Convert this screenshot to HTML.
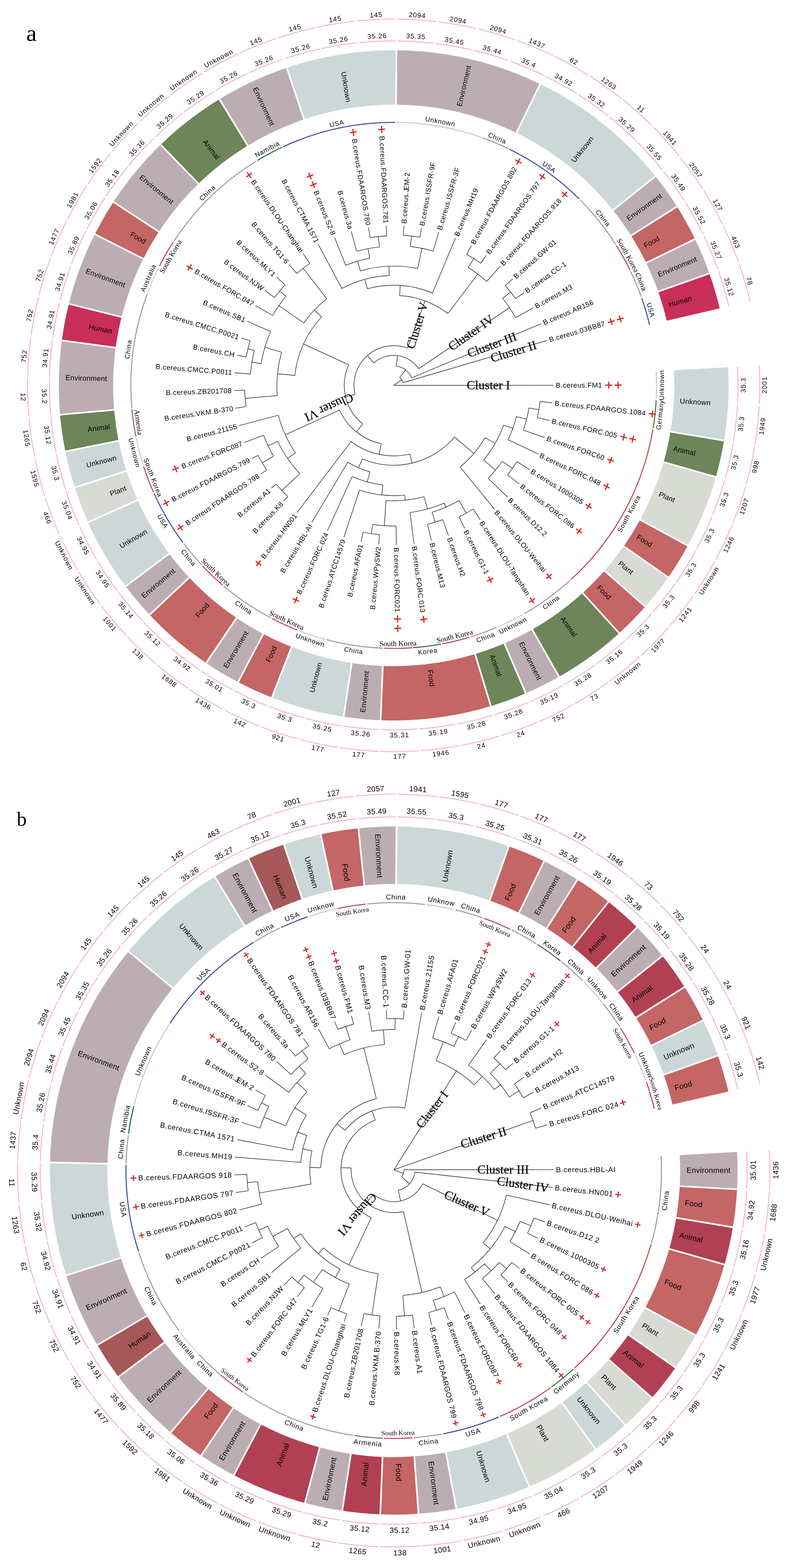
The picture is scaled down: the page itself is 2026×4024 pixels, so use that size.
<!DOCTYPE html><html><head><meta charset="utf-8"><title>Phylogenetic trees</title><style>
html,body{margin:0;padding:0;background:#fff;}svg{display:block;}
</style></head><body>
<svg width="2026" height="4024" viewBox="0 0 2026 4024" font-family="'Liberation Sans', Arial, sans-serif">
<rect width="2026" height="4024" fill="#fff"/>
<text x="67.5" y="105" font-size="60" font-family="'Liberation Serif', 'Times New Roman', serif" fill="#000">a</text>
<text x="43" y="2119" font-size="51" font-family="'Liberation Serif', 'Times New Roman', serif" fill="#000">b</text>
<g>
<path d="M1869.63 940.39A860 860 0 0 1 1859.23 1130.8L1721.64 1107.8A720.5 720.5 0 0 0 1730.35 948.28Z" fill="#ccd8d8"/>
<path d="M1859.23 1130.8A860 860 0 0 1 1838.28 1223.97L1704.09 1185.85A720.5 720.5 0 0 0 1721.64 1107.8Z" fill="#6e8459"/>
<path d="M1838.28 1223.97A860 860 0 0 1 1766.16 1400.5L1643.67 1333.75A720.5 720.5 0 0 0 1704.09 1185.85Z" fill="#d8dad4"/>
<path d="M1766.16 1400.5A860 860 0 0 1 1715.89 1481.68L1601.55 1401.77A720.5 720.5 0 0 0 1643.67 1333.75Z" fill="#c46566"/>
<path d="M1715.89 1481.68A860 860 0 0 1 1656.92 1556.79L1552.14 1464.69A720.5 720.5 0 0 0 1601.55 1401.77Z" fill="#d8dad4"/>
<path d="M1656.92 1556.79A860 860 0 0 1 1589.99 1624.9L1496.07 1521.76A720.5 720.5 0 0 0 1552.14 1464.69Z" fill="#c46566"/>
<path d="M1589.99 1624.9A860 860 0 0 1 1435.62 1736.86L1366.74 1615.55A720.5 720.5 0 0 0 1496.07 1521.76Z" fill="#6e8459"/>
<path d="M1435.62 1736.86A860 860 0 0 1 1350.09 1779.33L1295.09 1651.13A720.5 720.5 0 0 0 1366.74 1615.55Z" fill="#bcadb3"/>
<path d="M1350.09 1779.33A860 860 0 0 1 1260.38 1812.05L1219.93 1678.54A720.5 720.5 0 0 0 1295.09 1651.13Z" fill="#6e8459"/>
<path d="M1260.38 1812.05A860 860 0 0 1 977.39 1848.34L982.85 1708.95A720.5 720.5 0 0 0 1219.93 1678.54Z" fill="#c46566"/>
<path d="M977.39 1848.34A860 860 0 0 1 882.33 1839.32L903.2 1701.39A720.5 720.5 0 0 0 982.85 1708.95Z" fill="#bcadb3"/>
<path d="M882.33 1839.32A860 860 0 0 1 698.11 1790.06L748.86 1660.12A720.5 720.5 0 0 0 903.2 1701.39Z" fill="#ccd8d8"/>
<path d="M698.11 1790.06A860 860 0 0 1 611.23 1750.43L676.07 1626.92A720.5 720.5 0 0 0 748.86 1660.12Z" fill="#c46566"/>
<path d="M611.23 1750.43A860 860 0 0 1 529.27 1701.42L607.41 1585.86A720.5 720.5 0 0 0 676.07 1626.92Z" fill="#bcadb3"/>
<path d="M529.27 1701.42A860 860 0 0 1 384.12 1577.75L485.81 1482.25A720.5 720.5 0 0 0 607.41 1585.86Z" fill="#c46566"/>
<path d="M384.12 1577.75A860 860 0 0 1 322.71 1504.62L434.36 1420.98A720.5 720.5 0 0 0 485.81 1482.25Z" fill="#bcadb3"/>
<path d="M322.71 1504.62A860 860 0 0 1 226.01 1340.27L353.34 1283.29A720.5 720.5 0 0 0 434.36 1420.98Z" fill="#ccd8d8"/>
<path d="M226.01 1340.27A860 860 0 0 1 191.9 1251.07L324.77 1208.56A720.5 720.5 0 0 0 353.34 1283.29Z" fill="#d8dad4"/>
<path d="M191.9 1251.07A860 860 0 0 1 167.9 1158.65L304.66 1131.13A720.5 720.5 0 0 0 324.77 1208.56Z" fill="#ccd8d8"/>
<path d="M167.9 1158.65A860 860 0 0 1 154.29 1064.13L293.25 1051.94A720.5 720.5 0 0 0 304.66 1131.13Z" fill="#6e8459"/>
<path d="M154.29 1064.13A860 860 0 0 1 158.79 873.49L297.03 892.23A720.5 720.5 0 0 0 293.25 1051.94Z" fill="#bcadb3"/>
<path d="M158.79 873.49A860 860 0 0 1 176.85 779.72L312.16 813.67A720.5 720.5 0 0 0 297.03 892.23Z" fill="#c92f58"/>
<path d="M176.85 779.72A860 860 0 0 1 243.48 601.05L367.98 663.98A720.5 720.5 0 0 0 312.16 813.67Z" fill="#bcadb3"/>
<path d="M243.48 601.05A860 860 0 0 1 291.22 518.34L407.98 594.69A720.5 720.5 0 0 0 367.98 663.98Z" fill="#c46566"/>
<path d="M291.22 518.34A860 860 0 0 1 412.63 371.3L509.69 471.5A720.5 720.5 0 0 0 407.98 594.69Z" fill="#bcadb3"/>
<path d="M412.63 371.3A860 860 0 0 1 563.46 254.62L636.06 373.75A720.5 720.5 0 0 0 509.69 471.5Z" fill="#6e8459"/>
<path d="M563.46 254.62A860 860 0 0 1 736.3 174.05L780.86 306.25A720.5 720.5 0 0 0 636.06 373.75Z" fill="#bcadb3"/>
<path d="M736.3 174.05A860 860 0 0 1 1018.02 129.03L1016.88 268.52A720.5 720.5 0 0 0 780.86 306.25Z" fill="#ccd8d8"/>
<path d="M1018.02 129.03A860 860 0 0 1 1387.04 215.57L1326.04 341.03A720.5 720.5 0 0 0 1016.88 268.52Z" fill="#bcadb3"/>
<path d="M1387.04 215.57A860 860 0 0 1 1683.02 452.35L1574.01 539.4A720.5 720.5 0 0 0 1326.04 341.03Z" fill="#ccd8d8"/>
<path d="M1683.02 452.35A860 860 0 0 1 1738.37 530.16L1620.38 604.59A720.5 720.5 0 0 0 1574.01 539.4Z" fill="#bcadb3"/>
<path d="M1738.37 530.16A860 860 0 0 1 1784.76 613.63L1659.25 674.52A720.5 720.5 0 0 0 1620.38 604.59Z" fill="#c46566"/>
<path d="M1784.76 613.63A860 860 0 0 1 1821.6 701.73L1690.12 748.33A720.5 720.5 0 0 0 1659.25 674.52Z" fill="#bcadb3"/>
<path d="M1821.6 701.73A860 860 0 0 1 1848.45 793.37L1712.61 825.1A720.5 720.5 0 0 0 1690.12 748.33Z" fill="#c92f58"/>
<path d="M1719.67 1107.47L1861.2 1131.13M1702.16 1185.31L1840.2 1224.51M1641.91 1332.79L1767.92 1401.45M1599.91 1400.62L1717.52 1482.83M1550.64 1463.37L1658.42 1558.11M1494.72 1520.28L1591.33 1626.38M1365.76 1613.81L1436.61 1738.6M1294.3 1649.29L1350.88 1781.17M1219.35 1676.63L1260.96 1813.96M982.92 1706.95L977.32 1850.34M903.5 1699.41L882.03 1841.3M749.59 1658.26L697.38 1791.92M677 1625.15L610.3 1752.2M608.53 1584.2L528.15 1703.07M487.27 1480.88L382.66 1579.12M435.96 1419.78L321.11 1505.82M355.17 1282.47L224.18 1341.08M326.67 1207.95L190 1251.68M306.62 1130.73L165.94 1159.04M295.25 1051.77L152.3 1064.3M299.01 892.49L156.81 873.22M314.1 814.15L174.91 779.23M369.76 664.88L241.69 600.14M409.65 595.78L289.55 517.25M511.08 472.93L411.24 369.86M637.1 375.45L562.42 252.91M781.49 308.14L735.66 172.16M1016.87 270.52L1018.04 127.03M1325.17 342.83L1387.92 213.77M1572.45 540.65L1684.58 451.1M1618.69 605.66L1740.06 529.1M1657.45 675.39L1786.56 612.76M1688.23 749L1823.49 701.06M1728.35 948.39L1871.62 940.28M1710.66 825.56L1850.4 792.92" stroke="#fff" stroke-width="4.2" fill="none"/>
<text x="1745.91" y="1029.13" font-size="18.5" text-anchor="start" dy="0.35em" letter-spacing="0.3" transform="rotate(3.13 1745.91 1029.13)">Unknown</text>
<text x="1729.07" y="1150.47" font-size="18.5" text-anchor="start" dy="0.35em" letter-spacing="0.3" transform="rotate(12.67 1729.07 1150.47)">Animal</text>
<text x="1692.34" y="1267.34" font-size="18.5" text-anchor="start" dy="0.35em" letter-spacing="0.3" transform="rotate(22.22 1692.34 1267.34)">Plant</text>
<text x="1636.73" y="1376.5" font-size="18.5" text-anchor="start" dy="0.35em" letter-spacing="0.3" transform="rotate(31.77 1636.73 1376.5)">Food</text>
<text x="1589.91" y="1443.49" font-size="18.5" text-anchor="start" dy="0.35em" letter-spacing="0.3" transform="rotate(38.13 1589.91 1443.49)">Plant</text>
<text x="1535.95" y="1504.87" font-size="18.5" text-anchor="start" dy="0.35em" letter-spacing="0.3" transform="rotate(44.5 1535.95 1504.87)">Food</text>
<text x="1443.11" y="1584.8" font-size="18.5" text-anchor="start" dy="0.35em" letter-spacing="0.3" transform="rotate(54.05 1443.11 1584.8)">Animal</text>
<text x="1338.3" y="1648.22" font-size="18.5" text-anchor="start" dy="0.35em" letter-spacing="0.3" transform="rotate(63.6 1338.3 1648.22)">Environment</text>
<text x="1263.2" y="1680.44" font-size="18.5" text-anchor="start" dy="0.35em" letter-spacing="0.3" transform="rotate(69.96 1263.2 1680.44)">Animal</text>
<text x="1104.63" y="1719.02" font-size="18.5" text-anchor="start" dy="0.35em" letter-spacing="0.3" transform="rotate(82.69 1104.63 1719.02)">Food</text>
<text x="941.45" y="1721.71" font-size="18.5" text-anchor="end" dy="0.35em" letter-spacing="0.3" transform="rotate(-84.58 941.45 1721.71)">Environment</text>
<text x="820.88" y="1700.02" font-size="18.5" text-anchor="end" dy="0.35em" letter-spacing="0.3" transform="rotate(-75.03 820.88 1700.02)">Unknown</text>
<text x="705.57" y="1658.64" font-size="18.5" text-anchor="end" dy="0.35em" letter-spacing="0.3" transform="rotate(-65.48 705.57 1658.64)">Food</text>
<text x="633.22" y="1620.65" font-size="18.5" text-anchor="end" dy="0.35em" letter-spacing="0.3" transform="rotate(-59.12 633.22 1620.65)">Environment</text>
<text x="533.68" y="1549.23" font-size="18.5" text-anchor="end" dy="0.35em" letter-spacing="0.3" transform="rotate(-49.57 533.68 1549.23)">Food</text>
<text x="447.36" y="1462.3" font-size="18.5" text-anchor="end" dy="0.35em" letter-spacing="0.3" transform="rotate(-40.02 447.36 1462.3)">Environment</text>
<text x="376.66" y="1362.25" font-size="18.5" text-anchor="end" dy="0.35em" letter-spacing="0.3" transform="rotate(-30.47 376.66 1362.25)">Unknown</text>
<text x="323.54" y="1251.86" font-size="18.5" text-anchor="end" dy="0.35em" letter-spacing="0.3" transform="rotate(-20.92 323.54 1251.86)">Plant</text>
<text x="298.64" y="1174.02" font-size="18.5" text-anchor="end" dy="0.35em" letter-spacing="0.3" transform="rotate(-14.56 298.64 1174.02)">Unknown</text>
<text x="282.51" y="1093.9" font-size="18.5" text-anchor="end" dy="0.35em" letter-spacing="0.3" transform="rotate(-8.19 282.51 1093.9)">Animal</text>
<text x="275.21" y="971.61" font-size="18.5" text-anchor="end" dy="0.35em" letter-spacing="0.3" transform="rotate(1.35 275.21 971.61)">Environment</text>
<text x="288.28" y="849.8" font-size="18.5" text-anchor="end" dy="0.35em" letter-spacing="0.3" transform="rotate(10.9 288.28 849.8)">Human</text>
<text x="321.38" y="731.85" font-size="18.5" text-anchor="end" dy="0.35em" letter-spacing="0.3" transform="rotate(20.45 321.38 731.85)">Environment</text>
<text x="373.59" y="621.03" font-size="18.5" text-anchor="end" dy="0.35em" letter-spacing="0.3" transform="rotate(30 373.59 621.03)">Food</text>
<text x="443.46" y="520.4" font-size="18.5" text-anchor="end" dy="0.35em" letter-spacing="0.3" transform="rotate(39.55 443.46 520.4)">Environment</text>
<text x="560.67" y="406.85" font-size="18.5" text-anchor="end" dy="0.35em" letter-spacing="0.3" transform="rotate(52.28 560.67 406.85)">Animal</text>
<text x="700.03" y="321.92" font-size="18.5" text-anchor="end" dy="0.35em" letter-spacing="0.3" transform="rotate(65.01 700.03 321.92)">Environment</text>
<text x="894.85" y="262.22" font-size="18.5" text-anchor="end" dy="0.35em" letter-spacing="0.3" transform="rotate(80.92 894.85 262.22)">Unknown</text>
<text x="1179.05" y="272.44" font-size="18.5" text-anchor="start" dy="0.35em" letter-spacing="0.3" transform="rotate(283.2 1179.05 272.44)">Environment</text>
<text x="1470.77" y="414.28" font-size="18.5" text-anchor="start" dy="0.35em" letter-spacing="0.3" transform="rotate(308.66 1470.77 414.28)">Unknown</text>
<text x="1610.73" y="562.37" font-size="18.5" text-anchor="start" dy="0.35em" letter-spacing="0.3" transform="rotate(324.57 1610.73 562.37)">Environment</text>
<text x="1654.34" y="631.49" font-size="18.5" text-anchor="start" dy="0.35em" letter-spacing="0.3" transform="rotate(330.94 1654.34 631.49)">Food</text>
<text x="1690.01" y="705.02" font-size="18.5" text-anchor="start" dy="0.35em" letter-spacing="0.3" transform="rotate(337.3 1690.01 705.02)">Environment</text>
<text x="1717.3" y="782.05" font-size="18.5" text-anchor="start" dy="0.35em" letter-spacing="0.3" transform="rotate(343.67 1717.3 782.05)">Human</text>
<path d="M1893.72 941.43A884 884 0 0 1 1893.81 1034.8M1893.55 1039.59A884 884 0 0 1 1883.29 1132.39M1882.5 1137.13A884 884 0 0 1 1862.02 1228.22M1860.71 1232.83A884 884 0 0 1 1830.25 1321.09M1828.44 1325.53A884 884 0 0 1 1788.38 1409.87M1786.09 1414.09A884 884 0 0 1 1736.93 1493.46M1734.18 1497.4A884 884 0 0 1 1676.53 1570.83M1673.36 1574.44A884 884 0 0 1 1607.92 1641.03M1604.37 1644.26A884 884 0 0 1 1531.95 1703.19M1528.06 1706.01A884 884 0 0 1 1449.56 1756.54M1445.38 1758.91A884 884 0 0 1 1361.76 1800.43M1357.35 1802.33A884 884 0 0 1 1269.63 1834.32M1265.04 1835.71A884 884 0 0 1 1174.32 1857.78M1169.6 1858.66A884 884 0 0 1 1076.99 1870.53M1072.21 1870.88A884 884 0 0 1 978.85 1872.42M974.06 1872.23A884 884 0 0 1 881.11 1863.41M876.37 1862.69A884 884 0 0 1 784.97 1843.61M780.33 1842.37A884 884 0 0 1 691.61 1813.29M687.14 1811.54A884 884 0 0 1 602.2 1772.8M597.95 1770.56A884 884 0 0 1 517.82 1722.64M513.84 1719.95A884 884 0 0 1 439.52 1663.44M435.87 1660.33A884 884 0 0 1 368.27 1595.93M364.99 1592.43A884 884 0 0 1 304.95 1520.93M302.07 1517.08A884 884 0 0 1 250.33 1439.37M247.89 1435.23A884 884 0 0 1 205.09 1352.26M203.12 1347.88A884 884 0 0 1 169.78 1260.67M168.32 1256.1A884 884 0 0 1 144.85 1165.73M143.9 1161.03A884 884 0 0 1 130.59 1068.61M130.17 1063.83A884 884 0 0 1 127.19 970.52M127.31 965.72A884 884 0 0 1 134.69 872.64M135.34 867.89A884 884 0 0 1 152.99 776.21M154.16 771.55A884 884 0 0 1 181.87 682.4M183.55 677.9A884 884 0 0 1 220.98 592.36M223.14 588.08A884 884 0 0 1 269.82 507.22M272.45 503.2A884 884 0 0 1 327.81 428.02M330.86 424.32A884 884 0 0 1 394.21 355.73M397.66 352.39A884 884 0 0 1 468.22 291.25M472.02 288.32A884 884 0 0 1 548.93 235.38M553.02 232.88A884 884 0 0 1 635.33 188.8M639.68 186.77A884 884 0 0 1 726.36 152.08M730.91 150.55A884 884 0 0 1 820.9 125.68M825.59 124.66A884 884 0 0 1 917.78 109.93M922.56 109.44A884 884 0 0 1 1015.82 105.01M1020.62 105.05A884 884 0 0 1 1113.79 111M1118.56 111.57A884 884 0 0 1 1210.5 127.81M1215.18 128.9A884 884 0 0 1 1304.75 155.23M1309.27 156.84A884 884 0 0 1 1395.38 192.94M1399.69 195.04A884 884 0 0 1 1481.26 240.46M1485.32 243.03A884 884 0 0 1 1561.35 297.21M1565.1 300.21A884 884 0 0 1 1634.66 362.49M1638.05 365.89A884 884 0 0 1 1700.27 435.5M1703.27 439.25A884 884 0 0 1 1757.39 515.33M1759.95 519.39A884 884 0 0 1 1805.3 601M1807.39 605.32A884 884 0 0 1 1843.42 691.45M1845.02 695.98A884 884 0 0 1 1871.28 785.58" stroke="#f1afbf" stroke-width="2.2" fill="none"/>
<path d="M1949.63 938.27A940 940 0 0 1 1949.73 1037.85M1949.47 1042.64A940 940 0 0 1 1938.53 1141.62M1937.74 1146.36A940 940 0 0 1 1915.89 1243.52M1914.58 1248.13A940 940 0 0 1 1882.09 1342.27M1880.28 1346.71A940 940 0 0 1 1837.56 1436.67M1835.26 1440.88A940 940 0 0 1 1782.83 1525.55M1780.08 1529.48A940 940 0 0 1 1718.59 1607.81M1715.42 1611.41A940 940 0 0 1 1645.62 1682.44M1642.07 1685.67A940 940 0 0 1 1564.83 1748.52M1560.94 1751.34A940 940 0 0 1 1477.21 1805.24M1473.03 1807.61A940 940 0 0 1 1383.84 1851.9M1379.43 1853.79A940 940 0 0 1 1285.87 1887.91M1281.28 1889.31A940 940 0 0 1 1184.52 1912.85M1179.8 1913.72A940 940 0 0 1 1081.02 1926.39M1076.24 1926.73A940 940 0 0 1 976.67 1928.37M971.87 1928.19A940 940 0 0 1 872.73 1918.78M867.99 1918.06A940 940 0 0 1 770.5 1897.71M765.87 1896.47A940 940 0 0 1 671.24 1865.45M666.77 1863.7A940 940 0 0 1 576.16 1822.38M571.91 1820.15A940 940 0 0 1 486.45 1769.03M482.47 1766.34A940 940 0 0 1 403.21 1706.07M399.55 1702.95A940 940 0 0 1 327.45 1634.26M324.17 1630.76A940 940 0 0 1 260.13 1554.5M257.25 1550.66A940 940 0 0 1 202.06 1467.77M199.63 1463.63A940 940 0 0 1 153.97 1375.13M152.01 1370.75A940 940 0 0 1 116.44 1277.74M114.98 1273.16A940 940 0 0 1 89.95 1176.78M89 1172.07A940 940 0 0 1 74.81 1073.51M74.39 1068.72A940 940 0 0 1 71.21 969.19M71.32 964.39A940 940 0 0 1 79.2 865.12M79.84 860.37A940 940 0 0 1 98.68 762.58M99.84 757.92A940 940 0 0 1 129.4 662.83M131.08 658.33A940 940 0 0 1 171 567.1M173.16 562.82A940 940 0 0 1 222.95 476.57M225.58 472.56A940 940 0 0 1 284.62 392.36M287.68 388.66A940 940 0 0 1 355.25 315.51M358.7 312.17A940 940 0 0 1 433.96 246.96M437.75 244.02A940 940 0 0 1 519.78 187.56M523.88 185.06A940 940 0 0 1 611.66 138.04M616.02 136.01A940 940 0 0 1 708.47 99.01M713.02 97.48A940 940 0 0 1 809 70.96M813.7 69.94A940 940 0 0 1 912.03 54.22M916.81 53.73A940 940 0 0 1 1016.28 49.01M1021.08 49.05A940 940 0 0 1 1120.46 55.39M1125.22 55.97A940 940 0 0 1 1223.29 73.29M1227.96 74.38A940 940 0 0 1 1323.5 102.47M1328.03 104.07A940 940 0 0 1 1419.86 142.58M1424.18 144.68A940 940 0 0 1 1511.18 193.13M1515.24 195.69A940 940 0 0 1 1596.34 253.49M1600.08 256.48A940 940 0 0 1 1674.27 322.91M1677.66 326.31A940 940 0 0 1 1744.03 400.56M1747.03 404.31A940 940 0 0 1 1804.75 485.45M1807.31 489.51A940 940 0 0 1 1855.68 576.56M1857.78 580.88A940 940 0 0 1 1896.2 672.75M1897.81 677.27A940 940 0 0 1 1925.81 772.84" stroke="#f1afbf" stroke-width="2.2" fill="none"/>
<text x="1908.5" y="988.1" font-size="17.3" text-anchor="middle" dy="0.35em" letter-spacing="1.4" transform="rotate(-90.06 1908.5 988.1)">35.3</text>
<text x="1963" y="988.05" font-size="17.3" text-anchor="middle" dy="0.35em" letter-spacing="1.4" transform="rotate(-90.06 1963 988.05)">2001</text>
<text x="1903.07" y="1087.61" font-size="17.3" text-anchor="middle" dy="0.35em" letter-spacing="1.4" transform="rotate(-83.69 1903.07 1087.61)">35.3</text>
<text x="1957.24" y="1093.6" font-size="17.3" text-anchor="middle" dy="0.35em" letter-spacing="1.4" transform="rotate(-83.69 1957.24 1093.6)">1949</text>
<text x="1886.63" y="1185.9" font-size="17.3" text-anchor="middle" dy="0.35em" letter-spacing="1.4" transform="rotate(-77.33 1886.63 1185.9)">35.3</text>
<text x="1939.81" y="1197.86" font-size="17.3" text-anchor="middle" dy="0.35em" letter-spacing="1.4" transform="rotate(-77.33 1939.81 1197.86)">998</text>
<text x="1859.41" y="1281.77" font-size="17.3" text-anchor="middle" dy="0.35em" letter-spacing="1.4" transform="rotate(-70.96 1859.41 1281.77)">35.3</text>
<text x="1910.92" y="1299.55" font-size="17.3" text-anchor="middle" dy="0.35em" letter-spacing="1.4" transform="rotate(-70.96 1910.92 1299.55)">1207</text>
<text x="1821.72" y="1374.02" font-size="17.3" text-anchor="middle" dy="0.35em" letter-spacing="1.4" transform="rotate(-64.6 1821.72 1374.02)">35.3</text>
<text x="1870.95" y="1397.4" font-size="17.3" text-anchor="middle" dy="0.35em" letter-spacing="1.4" transform="rotate(-64.6 1870.95 1397.4)">1246</text>
<text x="1774.03" y="1461.53" font-size="17.3" text-anchor="middle" dy="0.35em" letter-spacing="1.4" transform="rotate(-58.23 1774.03 1461.53)">35.3</text>
<text x="1820.37" y="1490.23" font-size="17.3" text-anchor="middle" dy="0.35em" letter-spacing="1.4" transform="rotate(-58.23 1820.37 1490.23)">Unknown</text>
<text x="1716.94" y="1543.21" font-size="17.3" text-anchor="middle" dy="0.35em" letter-spacing="1.4" transform="rotate(-51.87 1716.94 1543.21)">35.3</text>
<text x="1759.81" y="1576.87" font-size="17.3" text-anchor="middle" dy="0.35em" letter-spacing="1.4" transform="rotate(-51.87 1759.81 1576.87)">1241</text>
<text x="1651.15" y="1618.06" font-size="17.3" text-anchor="middle" dy="0.35em" letter-spacing="1.4" transform="rotate(-45.5 1651.15 1618.06)">35.3</text>
<text x="1690.02" y="1656.26" font-size="17.3" text-anchor="middle" dy="0.35em" letter-spacing="1.4" transform="rotate(-45.5 1690.02 1656.26)">1977</text>
<text x="1577.46" y="1685.16" font-size="17.3" text-anchor="middle" dy="0.35em" letter-spacing="1.4" transform="rotate(-39.13 1577.46 1685.16)">35.16</text>
<text x="1611.85" y="1727.43" font-size="17.3" text-anchor="middle" dy="0.35em" letter-spacing="1.4" transform="rotate(-39.13 1611.85 1727.43)">Unknown</text>
<text x="1496.78" y="1743.67" font-size="17.3" text-anchor="middle" dy="0.35em" letter-spacing="1.4" transform="rotate(-32.77 1496.78 1743.67)">35.28</text>
<text x="1526.28" y="1789.49" font-size="17.3" text-anchor="middle" dy="0.35em" letter-spacing="1.4" transform="rotate(-32.77 1526.28 1789.49)">73</text>
<text x="1410.12" y="1792.87" font-size="17.3" text-anchor="middle" dy="0.35em" letter-spacing="1.4" transform="rotate(-26.4 1410.12 1792.87)">35.19</text>
<text x="1434.36" y="1841.69" font-size="17.3" text-anchor="middle" dy="0.35em" letter-spacing="1.4" transform="rotate(-26.4 1434.36 1841.69)">752</text>
<text x="1318.54" y="1832.16" font-size="17.3" text-anchor="middle" dy="0.35em" letter-spacing="1.4" transform="rotate(-20.04 1318.54 1832.16)">35.28</text>
<text x="1337.21" y="1883.37" font-size="17.3" text-anchor="middle" dy="0.35em" letter-spacing="1.4" transform="rotate(-20.04 1337.21 1883.37)">24</text>
<text x="1223.16" y="1861.06" font-size="17.3" text-anchor="middle" dy="0.35em" letter-spacing="1.4" transform="rotate(-13.67 1223.16 1861.06)">35.28</text>
<text x="1236.05" y="1914.02" font-size="17.3" text-anchor="middle" dy="0.35em" letter-spacing="1.4" transform="rotate(-13.67 1236.05 1914.02)">24</text>
<text x="1125.17" y="1879.21" font-size="17.3" text-anchor="middle" dy="0.35em" letter-spacing="1.4" transform="rotate(-7.31 1125.17 1879.21)">35.19</text>
<text x="1132.1" y="1933.27" font-size="17.3" text-anchor="middle" dy="0.35em" letter-spacing="1.4" transform="rotate(-7.31 1132.1 1933.27)">1946</text>
<text x="1025.77" y="1886.38" font-size="17.3" text-anchor="middle" dy="0.35em" letter-spacing="1.4" transform="rotate(-0.94 1025.77 1886.38)">35.31</text>
<text x="1026.67" y="1940.87" font-size="17.3" text-anchor="middle" dy="0.35em" letter-spacing="1.4" transform="rotate(-0.94 1026.67 1940.87)">177</text>
<text x="926.19" y="1882.48" font-size="17.3" text-anchor="middle" dy="0.35em" letter-spacing="1.4" transform="rotate(5.42 926.19 1882.48)">35.26</text>
<text x="921.04" y="1936.74" font-size="17.3" text-anchor="middle" dy="0.35em" letter-spacing="1.4" transform="rotate(5.42 921.04 1936.74)">177</text>
<text x="827.66" y="1867.57" font-size="17.3" text-anchor="middle" dy="0.35em" letter-spacing="1.4" transform="rotate(11.79 827.66 1867.57)">35.25</text>
<text x="816.52" y="1920.92" font-size="17.3" text-anchor="middle" dy="0.35em" letter-spacing="1.4" transform="rotate(11.79 816.52 1920.92)">177</text>
<text x="731.38" y="1841.83" font-size="17.3" text-anchor="middle" dy="0.35em" letter-spacing="1.4" transform="rotate(18.15 731.38 1841.83)">35.3</text>
<text x="714.4" y="1893.62" font-size="17.3" text-anchor="middle" dy="0.35em" letter-spacing="1.4" transform="rotate(18.15 714.4 1893.62)">921</text>
<text x="638.56" y="1805.57" font-size="17.3" text-anchor="middle" dy="0.35em" letter-spacing="1.4" transform="rotate(24.52 638.56 1805.57)">35.3</text>
<text x="615.94" y="1855.16" font-size="17.3" text-anchor="middle" dy="0.35em" letter-spacing="1.4" transform="rotate(24.52 615.94 1855.16)">142</text>
<text x="550.32" y="1759.25" font-size="17.3" text-anchor="middle" dy="0.35em" letter-spacing="1.4" transform="rotate(30.88 550.32 1759.25)">35.01</text>
<text x="522.35" y="1806.02" font-size="17.3" text-anchor="middle" dy="0.35em" letter-spacing="1.4" transform="rotate(30.88 522.35 1806.02)">1436</text>
<text x="467.77" y="1703.42" font-size="17.3" text-anchor="middle" dy="0.35em" letter-spacing="1.4" transform="rotate(37.25 467.77 1703.42)">34.92</text>
<text x="434.78" y="1746.81" font-size="17.3" text-anchor="middle" dy="0.35em" letter-spacing="1.4" transform="rotate(37.25 434.78 1746.81)">1688</text>
<text x="391.91" y="1638.79" font-size="17.3" text-anchor="middle" dy="0.35em" letter-spacing="1.4" transform="rotate(43.61 391.91 1638.79)">35.12</text>
<text x="354.31" y="1678.25" font-size="17.3" text-anchor="middle" dy="0.35em" letter-spacing="1.4" transform="rotate(43.61 354.31 1678.25)">138</text>
<text x="323.68" y="1566.15" font-size="17.3" text-anchor="middle" dy="0.35em" letter-spacing="1.4" transform="rotate(49.98 323.68 1566.15)">35.14</text>
<text x="281.95" y="1601.2" font-size="17.3" text-anchor="middle" dy="0.35em" letter-spacing="1.4" transform="rotate(49.98 281.95 1601.2)">1001</text>
<text x="263.93" y="1486.39" font-size="17.3" text-anchor="middle" dy="0.35em" letter-spacing="1.4" transform="rotate(56.34 263.93 1486.39)">34.95</text>
<text x="218.57" y="1516.6" font-size="17.3" text-anchor="middle" dy="0.35em" letter-spacing="1.4" transform="rotate(56.34 218.57 1516.6)">Unknown</text>
<text x="213.4" y="1400.5" font-size="17.3" text-anchor="middle" dy="0.35em" letter-spacing="1.4" transform="rotate(62.71 213.4 1400.5)">34.95</text>
<text x="164.96" y="1425.49" font-size="17.3" text-anchor="middle" dy="0.35em" letter-spacing="1.4" transform="rotate(62.71 164.96 1425.49)">Unknown</text>
<text x="172.69" y="1309.54" font-size="17.3" text-anchor="middle" dy="0.35em" letter-spacing="1.4" transform="rotate(69.08 172.69 1309.54)">35.04</text>
<text x="121.78" y="1329" font-size="17.3" text-anchor="middle" dy="0.35em" letter-spacing="1.4" transform="rotate(69.08 121.78 1329)">466</text>
<text x="142.32" y="1214.62" font-size="17.3" text-anchor="middle" dy="0.35em" letter-spacing="1.4" transform="rotate(75.44 142.32 1214.62)">35.3</text>
<text x="89.57" y="1228.32" font-size="17.3" text-anchor="middle" dy="0.35em" letter-spacing="1.4" transform="rotate(75.44 89.57 1228.32)">1595</text>
<text x="122.66" y="1116.92" font-size="17.3" text-anchor="middle" dy="0.35em" letter-spacing="1.4" transform="rotate(81.81 122.66 1116.92)">35.12</text>
<text x="68.72" y="1124.69" font-size="17.3" text-anchor="middle" dy="0.35em" letter-spacing="1.4" transform="rotate(81.81 68.72 1124.69)">1265</text>
<text x="113.96" y="1017.64" font-size="17.3" text-anchor="middle" dy="0.35em" letter-spacing="1.4" transform="rotate(88.17 113.96 1017.64)">35.2</text>
<text x="59.48" y="1019.38" font-size="17.3" text-anchor="middle" dy="0.35em" letter-spacing="1.4" transform="rotate(88.17 59.48 1019.38)">12</text>
<text x="116.31" y="918.02" font-size="17.3" text-anchor="middle" dy="0.35em" letter-spacing="1.4" transform="rotate(274.54 116.31 918.02)">34.91</text>
<text x="61.98" y="913.7" font-size="17.3" text-anchor="middle" dy="0.35em" letter-spacing="1.4" transform="rotate(274.54 61.98 913.7)">752</text>
<text x="129.7" y="819.26" font-size="17.3" text-anchor="middle" dy="0.35em" letter-spacing="1.4" transform="rotate(280.9 129.7 819.26)">34.91</text>
<text x="76.18" y="808.95" font-size="17.3" text-anchor="middle" dy="0.35em" letter-spacing="1.4" transform="rotate(280.9 76.18 808.95)">752</text>
<text x="153.95" y="722.6" font-size="17.3" text-anchor="middle" dy="0.35em" letter-spacing="1.4" transform="rotate(287.27 153.95 722.6)">34.91</text>
<text x="101.9" y="706.42" font-size="17.3" text-anchor="middle" dy="0.35em" letter-spacing="1.4" transform="rotate(287.27 101.9 706.42)">752</text>
<text x="188.77" y="629.22" font-size="17.3" text-anchor="middle" dy="0.35em" letter-spacing="1.4" transform="rotate(293.63 188.77 629.22)">35.89</text>
<text x="138.84" y="607.38" font-size="17.3" text-anchor="middle" dy="0.35em" letter-spacing="1.4" transform="rotate(293.63 138.84 607.38)">1477</text>
<text x="233.72" y="540.28" font-size="17.3" text-anchor="middle" dy="0.35em" letter-spacing="1.4" transform="rotate(300 233.72 540.28)">35.06</text>
<text x="186.52" y="513.04" font-size="17.3" text-anchor="middle" dy="0.35em" letter-spacing="1.4" transform="rotate(300 186.52 513.04)">1981</text>
<text x="288.26" y="456.88" font-size="17.3" text-anchor="middle" dy="0.35em" letter-spacing="1.4" transform="rotate(306.36 288.26 456.88)">35.18</text>
<text x="244.37" y="424.56" font-size="17.3" text-anchor="middle" dy="0.35em" letter-spacing="1.4" transform="rotate(306.36 244.37 424.56)">1592</text>
<text x="351.71" y="380.03" font-size="17.3" text-anchor="middle" dy="0.35em" letter-spacing="1.4" transform="rotate(312.73 351.71 380.03)">35.36</text>
<text x="311.68" y="343.05" font-size="17.3" text-anchor="middle" dy="0.35em" letter-spacing="1.4" transform="rotate(312.73 311.68 343.05)">Unknown</text>
<text x="423.29" y="310.69" font-size="17.3" text-anchor="middle" dy="0.35em" letter-spacing="1.4" transform="rotate(319.09 423.29 310.69)">35.29</text>
<text x="387.6" y="269.5" font-size="17.3" text-anchor="middle" dy="0.35em" letter-spacing="1.4" transform="rotate(319.09 387.6 269.5)">Unknown</text>
<text x="502.12" y="249.71" font-size="17.3" text-anchor="middle" dy="0.35em" letter-spacing="1.4" transform="rotate(325.46 502.12 249.71)">35.29</text>
<text x="471.22" y="204.82" font-size="17.3" text-anchor="middle" dy="0.35em" letter-spacing="1.4" transform="rotate(325.46 471.22 204.82)">Unknown</text>
<text x="587.22" y="197.85" font-size="17.3" text-anchor="middle" dy="0.35em" letter-spacing="1.4" transform="rotate(331.82 587.22 197.85)">35.26</text>
<text x="561.48" y="149.81" font-size="17.3" text-anchor="middle" dy="0.35em" letter-spacing="1.4" transform="rotate(331.82 561.48 149.81)">Unknown</text>
<text x="677.54" y="155.75" font-size="17.3" text-anchor="middle" dy="0.35em" letter-spacing="1.4" transform="rotate(338.19 677.54 155.75)">35.26</text>
<text x="657.29" y="105.15" font-size="17.3" text-anchor="middle" dy="0.35em" letter-spacing="1.4" transform="rotate(338.19 657.29 105.15)">145</text>
<text x="771.98" y="123.91" font-size="17.3" text-anchor="middle" dy="0.35em" letter-spacing="1.4" transform="rotate(344.55 771.98 123.91)">35.26</text>
<text x="757.46" y="71.38" font-size="17.3" text-anchor="middle" dy="0.35em" letter-spacing="1.4" transform="rotate(344.55 757.46 71.38)">145</text>
<text x="869.36" y="102.75" font-size="17.3" text-anchor="middle" dy="0.35em" letter-spacing="1.4" transform="rotate(350.92 869.36 102.75)">35.26</text>
<text x="860.76" y="48.93" font-size="17.3" text-anchor="middle" dy="0.35em" letter-spacing="1.4" transform="rotate(350.92 860.76 48.93)">145</text>
<text x="968.49" y="92.51" font-size="17.3" text-anchor="middle" dy="0.35em" letter-spacing="1.4" transform="rotate(357.29 968.49 92.51)">35.26</text>
<text x="965.91" y="38.07" font-size="17.3" text-anchor="middle" dy="0.35em" letter-spacing="1.4" transform="rotate(357.29 965.91 38.07)">145</text>
<text x="1068.14" y="93.32" font-size="17.3" text-anchor="middle" dy="0.35em" letter-spacing="1.4" transform="rotate(363.65 1068.14 93.32)">35.35</text>
<text x="1071.61" y="38.93" font-size="17.3" text-anchor="middle" dy="0.35em" letter-spacing="1.4" transform="rotate(363.65 1071.61 38.93)">2094</text>
<text x="1167.09" y="105.18" font-size="17.3" text-anchor="middle" dy="0.35em" letter-spacing="1.4" transform="rotate(370.02 1167.09 105.18)">35.45</text>
<text x="1176.57" y="51.51" font-size="17.3" text-anchor="middle" dy="0.35em" letter-spacing="1.4" transform="rotate(370.02 1176.57 51.51)">2094</text>
<text x="1264.12" y="127.93" font-size="17.3" text-anchor="middle" dy="0.35em" letter-spacing="1.4" transform="rotate(376.38 1264.12 127.93)">35.44</text>
<text x="1279.49" y="75.64" font-size="17.3" text-anchor="middle" dy="0.35em" letter-spacing="1.4" transform="rotate(376.38 1279.49 75.64)">2094</text>
<text x="1358.02" y="161.3" font-size="17.3" text-anchor="middle" dy="0.35em" letter-spacing="1.4" transform="rotate(382.75 1358.02 161.3)">35.4</text>
<text x="1379.09" y="111.04" font-size="17.3" text-anchor="middle" dy="0.35em" letter-spacing="1.4" transform="rotate(382.75 1379.09 111.04)">1437</text>
<text x="1447.65" y="204.88" font-size="17.3" text-anchor="middle" dy="0.35em" letter-spacing="1.4" transform="rotate(389.11 1447.65 204.88)">34.92</text>
<text x="1474.16" y="157.26" font-size="17.3" text-anchor="middle" dy="0.35em" letter-spacing="1.4" transform="rotate(389.11 1474.16 157.26)">62</text>
<text x="1531.89" y="258.12" font-size="17.3" text-anchor="middle" dy="0.35em" letter-spacing="1.4" transform="rotate(395.48 1531.89 258.12)">35.32</text>
<text x="1563.52" y="213.74" font-size="17.3" text-anchor="middle" dy="0.35em" letter-spacing="1.4" transform="rotate(395.48 1563.52 213.74)">1263</text>
<text x="1609.71" y="320.38" font-size="17.3" text-anchor="middle" dy="0.35em" letter-spacing="1.4" transform="rotate(401.84 1609.71 320.38)">35.29</text>
<text x="1646.06" y="279.78" font-size="17.3" text-anchor="middle" dy="0.35em" letter-spacing="1.4" transform="rotate(401.84 1646.06 279.78)">11</text>
<text x="1680.14" y="390.88" font-size="17.3" text-anchor="middle" dy="0.35em" letter-spacing="1.4" transform="rotate(408.21 1680.14 390.88)">35.55</text>
<text x="1720.78" y="354.56" font-size="17.3" text-anchor="middle" dy="0.35em" letter-spacing="1.4" transform="rotate(408.21 1720.78 354.56)">1941</text>
<text x="1742.33" y="468.75" font-size="17.3" text-anchor="middle" dy="0.35em" letter-spacing="1.4" transform="rotate(414.57 1742.33 468.75)">35.49</text>
<text x="1786.74" y="437.16" font-size="17.3" text-anchor="middle" dy="0.35em" letter-spacing="1.4" transform="rotate(414.57 1786.74 437.16)">2057</text>
<text x="1795.5" y="553.04" font-size="17.3" text-anchor="middle" dy="0.35em" letter-spacing="1.4" transform="rotate(420.94 1795.5 553.04)">35.52</text>
<text x="1843.14" y="526.56" font-size="17.3" text-anchor="middle" dy="0.35em" letter-spacing="1.4" transform="rotate(420.94 1843.14 526.56)">127</text>
<text x="1839" y="642.7" font-size="17.3" text-anchor="middle" dy="0.35em" letter-spacing="1.4" transform="rotate(427.3 1839 642.7)">35.27</text>
<text x="1889.28" y="621.67" font-size="17.3" text-anchor="middle" dy="0.35em" letter-spacing="1.4" transform="rotate(427.3 1889.28 621.67)">463</text>
<text x="1872.29" y="736.63" font-size="17.3" text-anchor="middle" dy="0.35em" letter-spacing="1.4" transform="rotate(433.67 1872.29 736.63)">35.12</text>
<text x="1924.59" y="721.31" font-size="17.3" text-anchor="middle" dy="0.35em" letter-spacing="1.4" transform="rotate(433.67 1924.59 721.31)">78</text>
<path d="M1685.01 952.55A675 675 0 0 1 1685.09 1024.1" stroke="#b9cece" stroke-width="2.6" fill="none"/>
<text x="1699" y="988.31" font-size="17" text-anchor="middle" dy="0.35em" letter-spacing="1" transform="rotate(-90.06 1699 988.31)">Unknown</text>
<path d="M1684.9 1027.5A675 675 0 0 1 1677.04 1098.62" stroke="#1f7d3a" stroke-width="2.6" fill="none"/>
<text x="1694.83" y="1064.59" font-size="17" text-anchor="middle" dy="0.35em" letter-spacing="1" transform="rotate(-83.69 1694.83 1064.59)">Germany</text>
<path d="M1676.48 1101.97A675 675 0 0 1 1466.69 1486.97" stroke="#c0434a" stroke-width="2.6" fill="none"/>
<text x="1615.13" y="1318.2" font-size="17" text-anchor="middle" dy="0.35em" letter-spacing="1" transform="rotate(-61.41 1615.13 1318.2)">South Korea</text>
<path d="M1464.18 1489.25A675 675 0 0 1 1345.75 1575.14" stroke="#a8939d" stroke-width="2.6" fill="none"/>
<text x="1414.93" y="1545.94" font-size="17" text-anchor="middle" dy="0.35em" letter-spacing="1" transform="rotate(-35.95 1414.93 1545.94)">China</text>
<path d="M1342.8 1576.82A675 675 0 0 1 1278.71 1608.64" stroke="#b9cece" stroke-width="2.6" fill="none"/>
<text x="1316.96" y="1605.23" font-size="17" text-anchor="middle" dy="0.35em" letter-spacing="1" transform="rotate(-26.4 1316.96 1605.23)">Unknown</text>
<path d="M1275.58 1609.98A675 675 0 0 1 1208.36 1634.5" stroke="#a8939d" stroke-width="2.6" fill="none"/>
<text x="1246.75" y="1635.35" font-size="17" text-anchor="middle" dy="0.35em" letter-spacing="1" transform="rotate(-20.04 1246.75 1635.35)">China</text>
<path d="M1205.1 1635.49A675 675 0 0 1 1135.58 1652.4" stroke="#c0434a" stroke-width="2.6" fill="none"/>
<text x="1167.49" y="1632.24" font-size="19" text-anchor="middle" dy="0.35em" font-family="'Liberation Serif', 'Times New Roman', serif" transform="rotate(-13.67 1167.49 1632.24)">South Korea</text>
<path d="M1132.23 1653.02A675 675 0 0 1 1061.26 1662.13" stroke="#4c4c72" stroke-width="2.6" fill="none"/>
<text x="1098.52" y="1671.41" font-size="17" text-anchor="middle" dy="0.35em" letter-spacing="1" transform="rotate(-7.31 1098.52 1671.41)">Korea</text>
<path d="M1057.87 1662.37A675 675 0 0 1 986.32 1663.55" stroke="#c0434a" stroke-width="2.6" fill="none"/>
<text x="1021.9" y="1650.91" font-size="19" text-anchor="middle" dy="0.35em" font-family="'Liberation Serif', 'Times New Roman', serif" transform="rotate(-0.94 1021.9 1650.91)">South Korea</text>
<path d="M982.92 1663.42A675 675 0 0 1 838.28 1641.53" stroke="#a8939d" stroke-width="2.6" fill="none"/>
<text x="908.06" y="1669.26" font-size="17" text-anchor="middle" dy="0.35em" letter-spacing="1" transform="rotate(8.6 908.06 1669.26)">China</text>
<path d="M835 1640.65A675 675 0 0 1 767 1618.36" stroke="#b9cece" stroke-width="2.6" fill="none"/>
<text x="796.65" y="1642.76" font-size="17" text-anchor="middle" dy="0.35em" letter-spacing="1" transform="rotate(18.15 796.65 1642.76)">Unknown</text>
<path d="M763.83 1617.12A675 675 0 0 1 698.73 1587.43" stroke="#c0434a" stroke-width="2.6" fill="none"/>
<text x="736.28" y="1591.31" font-size="19" text-anchor="middle" dy="0.35em" font-family="'Liberation Serif', 'Times New Roman', serif" transform="rotate(24.52 736.28 1591.31)">South Korea</text>
<path d="M695.72 1585.84A675 675 0 0 1 574.53 1503.9" stroke="#a8939d" stroke-width="2.6" fill="none"/>
<text x="625.62" y="1558.93" font-size="17" text-anchor="middle" dy="0.35em" letter-spacing="1" transform="rotate(34.07 625.62 1558.93)">China</text>
<path d="M571.95 1501.7A675 675 0 0 1 520.14 1452.34" stroke="#c0434a" stroke-width="2.6" fill="none"/>
<text x="554.36" y="1468.29" font-size="19" text-anchor="middle" dy="0.35em" font-family="'Liberation Serif', 'Times New Roman', serif" transform="rotate(43.61 554.36 1468.29)">South Korea</text>
<path d="M517.81 1449.86A675 675 0 0 1 471.8 1395.06" stroke="#a8939d" stroke-width="2.6" fill="none"/>
<text x="484.12" y="1431.43" font-size="17" text-anchor="middle" dy="0.35em" letter-spacing="1" transform="rotate(49.98 484.12 1431.43)">China</text>
<path d="M469.76 1392.34A675 675 0 0 1 395.57 1266.25" stroke="#3a4aa8" stroke-width="2.6" fill="none"/>
<text x="418.03" y="1337.9" font-size="17" text-anchor="middle" dy="0.35em" letter-spacing="1" transform="rotate(59.53 418.03 1337.9)">USA</text>
<path d="M394.18 1263.15A675 675 0 0 1 368.62 1196.31" stroke="#c0434a" stroke-width="2.6" fill="none"/>
<text x="392.66" y="1225.43" font-size="17" text-anchor="middle" dy="0.35em" letter-spacing="1" transform="rotate(69.08 392.66 1225.43)">South Korea</text>
<path d="M367.59 1193.08A675 675 0 0 1 349.6 1123.82" stroke="#b9cece" stroke-width="2.6" fill="none"/>
<text x="345.09" y="1161.95" font-size="17" text-anchor="middle" dy="0.35em" letter-spacing="1" transform="rotate(75.44 345.09 1161.95)">Unknown</text>
<path d="M348.93 1120.48A675 675 0 0 1 338.73 1049.66" stroke="#86695c" stroke-width="2.6" fill="none"/>
<text x="355.76" y="1083.35" font-size="19" text-anchor="middle" dy="0.35em" font-family="'Liberation Serif', 'Times New Roman', serif" transform="rotate(81.81 355.76 1083.35)">Armenia</text>
<path d="M338.43 1046.27A675 675 0 0 1 377.95 754.76" stroke="#a8939d" stroke-width="2.6" fill="none"/>
<text x="329.23" y="896.59" font-size="17" text-anchor="middle" dy="0.35em" letter-spacing="1" transform="rotate(277.72 329.23 896.59)">China</text>
<path d="M379.13 751.57A675 675 0 0 1 407.82 686.02" stroke="#cfd4ca" stroke-width="2.6" fill="none"/>
<text x="380.7" y="713.21" font-size="17" text-anchor="middle" dy="0.35em" letter-spacing="1" transform="rotate(293.63 380.7 713.21)">Australia</text>
<path d="M409.35 682.98A675 675 0 0 1 445.13 621.01" stroke="#c0434a" stroke-width="2.6" fill="none"/>
<text x="437.68" y="658.02" font-size="19" text-anchor="middle" dy="0.35em" font-family="'Liberation Serif', 'Times New Roman', serif" transform="rotate(300 437.68 658.02)">South Korea</text>
<path d="M446.99 618.17A675 675 0 0 1 658.28 413.49" stroke="#a8939d" stroke-width="2.6" fill="none"/>
<text x="532.31" y="494.84" font-size="17" text-anchor="middle" dy="0.35em" letter-spacing="1" transform="rotate(315.91 532.31 494.84)">China</text>
<path d="M661.19 411.72A675 675 0 0 1 724.26 377.93" stroke="#1d6a38" stroke-width="2.6" fill="none"/>
<text x="686.14" y="382.53" font-size="17" text-anchor="middle" dy="0.35em" letter-spacing="1" transform="rotate(331.82 686.14 382.53)">Namibia</text>
<path d="M727.35 376.49A675 675 0 0 1 1014.81 314.01" stroke="#3a4aa8" stroke-width="2.6" fill="none"/>
<text x="864.87" y="316.7" font-size="17" text-anchor="middle" dy="0.35em" letter-spacing="1" transform="rotate(347.74 864.87 316.7)">USA</text>
<path d="M1018.21 314.04A675 675 0 0 1 1235.43 352.4" stroke="#b9cece" stroke-width="2.6" fill="none"/>
<text x="1130.66" y="311.49" font-size="17" text-anchor="middle" dy="0.35em" letter-spacing="1" transform="rotate(370.02 1130.66 311.49)">Unknown</text>
<path d="M1238.63 353.54A675 675 0 0 1 1304.62 381.21" stroke="#a8939d" stroke-width="2.6" fill="none"/>
<text x="1277.02" y="354.51" font-size="17" text-anchor="middle" dy="0.35em" letter-spacing="1" transform="rotate(382.75 1277.02 354.51)">China</text>
<path d="M1307.68 382.69A675 675 0 0 1 1487.3 510.71" stroke="#3a4aa8" stroke-width="2.6" fill="none"/>
<text x="1410.3" y="428.73" font-size="17" text-anchor="middle" dy="0.35em" letter-spacing="1" transform="rotate(395.48 1410.3 428.73)">USA</text>
<path d="M1489.71 513.12A675 675 0 0 1 1580.99 627.43" stroke="#a8939d" stroke-width="2.6" fill="none"/>
<text x="1548.61" y="559.68" font-size="17" text-anchor="middle" dy="0.35em" letter-spacing="1" transform="rotate(411.39 1548.61 559.68)">China</text>
<path d="M1582.81 630.3A675 675 0 0 1 1617.57 692.85" stroke="#c0434a" stroke-width="2.6" fill="none"/>
<text x="1612.38" y="654.8" font-size="19" text-anchor="middle" dy="0.35em" font-family="'Liberation Serif', 'Times New Roman', serif" transform="rotate(420.94 1612.38 654.8)">South Korea</text>
<path d="M1619.05 695.91A675 675 0 0 1 1646.66 761.93" stroke="#a8939d" stroke-width="2.6" fill="none"/>
<text x="1645.72" y="723.54" font-size="17" text-anchor="middle" dy="0.35em" letter-spacing="1" transform="rotate(427.3 1645.72 723.54)">China</text>
<path d="M1647.79 765.13A675 675 0 0 1 1667.92 833.8" stroke="#3a4aa8" stroke-width="2.6" fill="none"/>
<text x="1671.24" y="795.54" font-size="17" text-anchor="middle" dy="0.35em" letter-spacing="1" transform="rotate(433.67 1671.24 795.54)">USA</text>
<path d="M1011 989L1421 988.59M1011 989L1031.6 974.84M1026.16 969.12A25 25 0 0 1 1034.99 981.97M1034.99 981.97L1404.46 873.71M1026.16 969.12L1041.32 949.24M1017.4 939.41A50 50 0 0 1 1057.13 969.71M1057.13 969.71L1389.25 830.8M1017.4 939.41L1020.86 912.63M960.03 931.29A77 77 0 0 1 1074.96 946.13M960.03 931.29L943.47 912.55M911.74 1012.49A102 102 0 0 1 1046.57 893.4M911.74 1012.49L887.41 1018.25M931.52 1088.06A127 127 0 0 1 895.55 936.08M931.52 1088.06L915.25 1108.34M979.23 1138.66A153 153 0 0 1 871.78 1052.46M979.23 1138.66L973.41 1166.05M1052.56 1165.16A181 181 0 0 1 901.45 1133.08M1052.56 1165.16L1058.08 1188.52M1167.29 1121.65A205 205 0 0 1 930.49 1177.53M1167.29 1121.65L1216.85 1163.71M1245.34 1123.1A270 270 0 0 1 1181.41 1198.43M1245.34 1123.1L1271.38 1138M1293.2 1090.79A300 300 0 0 1 1241.73 1180.73M1293.2 1090.79L1316.72 1099.27M1325.98 1069.08A325 325 0 0 1 1304.57 1128.42M1325.98 1069.08L1352.15 1075.73M1358.18 1047.04A352 352 0 0 1 1343.75 1103.82M1358.18 1047.04L1383.83 1051.33M1386.71 1030.53A378 378 0 0 1 1379.79 1071.93M1386.71 1030.53L1418.52 1034.05M1379.79 1071.93L1411.01 1078.95M1343.75 1103.82L1398.57 1122.74M1304.57 1128.42L1381.36 1164.89M1241.73 1180.73L1272.5 1206.3M1289.68 1183.78A340 340 0 0 1 1253.51 1227.31M1289.68 1183.78L1315.9 1202.11M1327.27 1184.86A372 372 0 0 1 1303.6 1218.71M1327.27 1184.86L1359.57 1204.86M1303.6 1218.71L1333.49 1242.18M1253.51 1227.31L1303.43 1276.37M1181.41 1198.43L1269.77 1307.02M930.49 1177.53L920.67 1200.52M950.05 1210.78A230 230 0 0 1 892.94 1186.39M950.05 1210.78L942.89 1236.81M983.16 1244.49A257 257 0 0 1 904.35 1222.83M983.16 1244.49L980.35 1270.34M1039.19 1270.59A283 283 0 0 1 922.83 1257.91M1039.19 1270.59L1040.49 1283.53M1088.93 1274.56A296 296 0 0 1 991.22 1284.34M1088.93 1274.56L1097.62 1306.39M1140.72 1291.35A329 329 0 0 1 1052.85 1315.33M1140.72 1291.35L1145.06 1301.46M1178.87 1284.67A340 340 0 0 1 1109.59 1314.39M1178.87 1284.67L1197.14 1316.84M1215.06 1306A377 377 0 0 1 1178.65 1326.67M1215.06 1306L1232.92 1333.75M1178.65 1326.67L1193.33 1356.23M1109.59 1314.39L1117.42 1340.23M1136.76 1333.78A367 367 0 0 1 1097.76 1345.6M1136.76 1333.78L1151.49 1374.18M1097.76 1345.6L1107.92 1387.38M1052.85 1315.33L1063.16 1395.67M991.22 1284.34L986.88 1349.19M1016.94 1349.95A361 361 0 0 1 956.99 1345.94M1016.94 1349.95L1017.75 1398.94M956.99 1345.94L953.4 1369.67M974.62 1372.28A385 385 0 0 1 932.35 1365.88M974.62 1372.28L972.26 1397.17M932.35 1365.88L927.24 1390.35M922.83 1257.91L883.26 1378.59M904.35 1222.83L840.86 1362.03M892.94 1186.39L800.55 1340.87M901.45 1133.08L762.84 1315.37M871.78 1052.46L732.56 1115.92M758.67 1162.11A306 306 0 0 1 714.83 1065.92M758.67 1162.11L738.05 1176.25M769.72 1215.6A331 331 0 0 1 712.74 1132.54M769.72 1215.6L723.8 1258.73M739.22 1274.26A394 394 0 0 1 709.27 1242.37M739.22 1274.26L728.18 1285.84M709.27 1242.37L697.02 1252.66M712.74 1132.54L688.41 1144.24M702.45 1170.55A358 358 0 0 1 676.61 1116.86M702.45 1170.55L673.15 1187.79M684.7 1206.25A392 392 0 0 1 662.63 1168.73M684.7 1206.25L669.72 1216.22M662.63 1168.73L646.63 1176.98M676.61 1116.86L628.04 1135.43M714.83 1065.92L614.17 1092.07M895.55 936.08L779.19 882.74M757.27 963.54A255 255 0 0 1 826.1 813.39M757.27 963.54L712.5 959.05M712.15 1015.21A300 300 0 0 1 723.31 903.94M712.15 1015.21L629.46 1022.46M631.91 1043.59A383 383 0 0 1 628.2 1001.22M631.91 1043.59L605.19 1047.44M628.2 1001.22L601.21 1002.09M723.31 903.94L680.16 891.18M670.54 933.19A345 345 0 0 1 694.93 850.7M670.54 933.19L646.86 929.3M643.16 959.82A369 369 0 0 1 653.09 899.2M643.16 959.82L602.28 956.57M653.09 899.2L636.6 895.07M631.97 916A386 386 0 0 1 642.4 874.43M631.97 916L608.4 911.46M642.4 874.43L619.48 867.3M694.93 850.7L635.38 824.65M826.1 813.39L807.25 795.49M780.18 828.74A281 281 0 0 1 839.07 766.74M780.18 828.74L716.11 784.26M700.09 809.51A359 359 0 0 1 734.17 760.43M700.09 809.51L655.92 784.02M734.17 760.43L717.97 747.06M704.99 763.7A380 380 0 0 1 731.86 731.16M704.99 763.7L680.84 745.91M731.86 731.16L709.82 710.81M839.07 766.74L778.49 688.43M762.17 701.8A380 380 0 0 1 795.54 675.99M762.17 701.8L742.52 679.13M795.54 675.99L778.53 651.28M1046.57 893.4L1091.55 772.5M1026.11 758.49A231 231 0 0 1 1150.24 804.68M1026.11 758.49L1027.81 732.55M943.42 741.05A257 257 0 0 1 1110.37 751.99M943.42 741.05L936.84 716.93M877.85 740.42A282 282 0 0 1 999.6 707.23M877.85 740.42L817.41 627.58M999.6 707.23L998.63 683.25M925.42 695.21A306 306 0 0 1 1072.57 689.26M925.42 695.21L918.15 670.25M887.65 680.77A332 332 0 0 1 949.52 662.74M887.65 680.77L858.67 608.35M949.52 662.74L944.89 638.17M915.92 644.89A357 357 0 0 1 974.32 633.89M915.92 644.89L901.81 593.81M974.32 633.89L971.54 607.03M950.4 609.81A384 384 0 0 1 992.81 605.43M950.4 609.81L946.3 584.14M992.81 605.43L991.58 579.46M1072.57 689.26L1083.23 637.34M1053.71 632.55A359 359 0 0 1 1112.25 644.57M1053.71 632.55L1056.93 605.74M1035.58 603.78A386 386 0 0 1 1078.13 608.88M1035.58 603.78L1037.11 579.83M1078.13 608.88L1082.31 585.25M1112.25 644.57L1126.63 595.64M1110.37 751.99L1169.53 610.89M1150.24 804.68L1226.79 703.35M1202.27 686.38A358 358 0 0 1 1249.82 722.3M1202.27 686.38L1216.69 663.55M1198.31 652.64A385 385 0 0 1 1234.45 675.48M1198.31 652.64L1210.47 630.79M1234.45 675.48L1248.95 655.12M1249.82 722.3L1284.5 683.56M1074.96 946.13L1308.37 789.66M1290.75 765.6A358 358 0 0 1 1323.93 815.1M1290.75 765.6L1311.06 749.38M1297.3 733.09A384 384 0 0 1 1323.9 766.41M1297.3 733.09L1316.68 715.76M1323.9 766.41L1345.09 751.34M1323.93 815.1L1369.38 789.84" stroke="#222" stroke-width="1.4" fill="none" stroke-linejoin="round"/>
<text x="1427" y="988.58" font-size="18" text-anchor="start" dy="0.35em" letter-spacing="0.6" transform="rotate(-0.06 1427 988.58)">B.cereus.FM1</text>
<text x="1424.48" y="1034.71" font-size="18" text-anchor="start" dy="0.35em" letter-spacing="0.6" transform="rotate(6.31 1424.48 1034.71)">B.cereus.FDAARGOS.1084</text>
<text x="1416.87" y="1080.27" font-size="18" text-anchor="start" dy="0.35em" letter-spacing="0.6" transform="rotate(12.67 1416.87 1080.27)">B.cereus.FORC.005</text>
<text x="1404.24" y="1124.7" font-size="18" text-anchor="start" dy="0.35em" letter-spacing="0.6" transform="rotate(19.04 1404.24 1124.7)">B.cereus.FORC60</text>
<text x="1386.78" y="1167.46" font-size="18" text-anchor="start" dy="0.35em" letter-spacing="0.6" transform="rotate(25.4 1386.78 1167.46)">B.cereus.FORC.048</text>
<text x="1364.67" y="1208.02" font-size="18" text-anchor="start" dy="0.35em" letter-spacing="0.6" transform="rotate(31.77 1364.67 1208.02)">B.cereus.1000305</text>
<text x="1338.21" y="1245.88" font-size="18" text-anchor="start" dy="0.35em" letter-spacing="0.6" transform="rotate(38.13 1338.21 1245.88)">B.cereus.FORC.086</text>
<text x="1307.71" y="1280.58" font-size="18" text-anchor="start" dy="0.35em" letter-spacing="0.6" transform="rotate(44.5 1307.71 1280.58)">B.cereus.D12.2</text>
<text x="1273.56" y="1311.68" font-size="18" text-anchor="start" dy="0.35em" letter-spacing="0.6" transform="rotate(50.87 1273.56 1311.68)">B.cereus.DLOU-Weihai</text>
<text x="1236.17" y="1338.8" font-size="18" text-anchor="start" dy="0.35em" letter-spacing="0.6" transform="rotate(57.23 1236.17 1338.8)">B.cereus.DLOU-Tangshan</text>
<text x="1196" y="1361.6" font-size="18" text-anchor="start" dy="0.35em" letter-spacing="0.6" transform="rotate(63.6 1196 1361.6)">B.cereus.G1-1</text>
<text x="1153.55" y="1379.82" font-size="18" text-anchor="start" dy="0.35em" letter-spacing="0.6" transform="rotate(69.96 1153.55 1379.82)">B.cereus.H2</text>
<text x="1109.34" y="1393.21" font-size="18" text-anchor="start" dy="0.35em" letter-spacing="0.6" transform="rotate(76.33 1109.34 1393.21)">B.cereus.M13</text>
<text x="1063.92" y="1401.62" font-size="18" text-anchor="start" dy="0.35em" letter-spacing="0.6" transform="rotate(82.69 1063.92 1401.62)">B.cereus.FORC.013</text>
<text x="1017.85" y="1404.94" font-size="18" text-anchor="start" dy="0.35em" letter-spacing="0.6" transform="rotate(89.06 1017.85 1404.94)">B.cereus.FORC021</text>
<text x="971.69" y="1403.14" font-size="18" text-anchor="end" dy="0.35em" letter-spacing="0.6" transform="rotate(-84.58 971.69 1403.14)">B.cereus.WPySW2</text>
<text x="926.02" y="1396.23" font-size="18" text-anchor="end" dy="0.35em" letter-spacing="0.6" transform="rotate(-78.21 926.02 1396.23)">B.cereus.AFA01</text>
<text x="881.39" y="1384.3" font-size="18" text-anchor="end" dy="0.35em" letter-spacing="0.6" transform="rotate(-71.85 881.39 1384.3)">B.cereus.ATCC14579</text>
<text x="838.37" y="1367.49" font-size="18" text-anchor="end" dy="0.35em" letter-spacing="0.6" transform="rotate(-65.48 838.37 1367.49)">B.cereus.FORC.024</text>
<text x="797.47" y="1346.02" font-size="18" text-anchor="end" dy="0.35em" letter-spacing="0.6" transform="rotate(-59.12 797.47 1346.02)">B.cereus.HBL-AI</text>
<text x="759.21" y="1320.14" font-size="18" text-anchor="end" dy="0.35em" letter-spacing="0.6" transform="rotate(-52.75 759.21 1320.14)">B.cereus.HN001</text>
<text x="724.04" y="1290.19" font-size="18" text-anchor="end" dy="0.35em" letter-spacing="0.6" transform="rotate(-46.39 724.04 1290.19)">B.cereus.K8</text>
<text x="692.42" y="1256.52" font-size="18" text-anchor="end" dy="0.35em" letter-spacing="0.6" transform="rotate(-40.02 692.42 1256.52)">B.cereus.A1</text>
<text x="664.73" y="1219.55" font-size="18" text-anchor="end" dy="0.35em" letter-spacing="0.6" transform="rotate(-33.66 664.73 1219.55)">B.cereus.FDAARGOS.798</text>
<text x="641.3" y="1179.73" font-size="18" text-anchor="end" dy="0.35em" letter-spacing="0.6" transform="rotate(-27.29 641.3 1179.73)">B.cereus.FDAARGOS.799</text>
<text x="622.44" y="1137.57" font-size="18" text-anchor="end" dy="0.35em" letter-spacing="0.6" transform="rotate(-20.92 622.44 1137.57)">B.cereus.FORC087</text>
<text x="608.36" y="1093.58" font-size="18" text-anchor="end" dy="0.35em" letter-spacing="0.6" transform="rotate(-14.56 608.36 1093.58)">B.cereus.21155</text>
<text x="599.25" y="1048.29" font-size="18" text-anchor="end" dy="0.35em" letter-spacing="0.6" transform="rotate(-8.19 599.25 1048.29)">B.cereus.VKM.B-370</text>
<text x="595.21" y="1002.28" font-size="18" text-anchor="end" dy="0.35em" letter-spacing="0.6" transform="rotate(-1.83 595.21 1002.28)">B.cereus.ZB201708</text>
<text x="596.3" y="956.1" font-size="18" text-anchor="end" dy="0.35em" letter-spacing="0.6" transform="rotate(4.54 596.3 956.1)">B.cereus.CMCC.P0011</text>
<text x="602.51" y="910.32" font-size="18" text-anchor="end" dy="0.35em" letter-spacing="0.6" transform="rotate(10.9 602.51 910.32)">B.cereus.CH</text>
<text x="613.75" y="865.52" font-size="18" text-anchor="end" dy="0.35em" letter-spacing="0.6" transform="rotate(17.27 613.75 865.52)">B.cereus.CMCC.P0021</text>
<text x="629.89" y="822.24" font-size="18" text-anchor="end" dy="0.35em" letter-spacing="0.6" transform="rotate(23.63 629.89 822.24)">B.cereus.SB1</text>
<text x="650.72" y="781.02" font-size="18" text-anchor="end" dy="0.35em" letter-spacing="0.6" transform="rotate(30 650.72 781.02)">B.cereus.FORC.047</text>
<text x="676" y="742.35" font-size="18" text-anchor="end" dy="0.35em" letter-spacing="0.6" transform="rotate(36.36 676 742.35)">B.cereus.NJW</text>
<text x="705.41" y="706.74" font-size="18" text-anchor="end" dy="0.35em" letter-spacing="0.6" transform="rotate(42.73 705.41 706.74)">B.cereus.MLY1</text>
<text x="738.59" y="674.6" font-size="18" text-anchor="end" dy="0.35em" letter-spacing="0.6" transform="rotate(49.09 738.59 674.6)">B.cereus.TG1-6</text>
<text x="775.13" y="646.33" font-size="18" text-anchor="end" dy="0.35em" letter-spacing="0.6" transform="rotate(55.46 775.13 646.33)">B.cereus.DLOU-Changhai</text>
<text x="814.57" y="622.3" font-size="18" text-anchor="end" dy="0.35em" letter-spacing="0.6" transform="rotate(61.82 814.57 622.3)">B.cereus.CTMA.1571</text>
<text x="856.44" y="602.78" font-size="18" text-anchor="end" dy="0.35em" letter-spacing="0.6" transform="rotate(68.19 856.44 602.78)">B.cereus.S2-8</text>
<text x="900.21" y="588.02" font-size="18" text-anchor="end" dy="0.35em" letter-spacing="0.6" transform="rotate(74.55 900.21 588.02)">B.cereus.3a</text>
<text x="945.35" y="578.21" font-size="18" text-anchor="end" dy="0.35em" letter-spacing="0.6" transform="rotate(80.92 945.35 578.21)">B.cereus.FDAARGOS.780</text>
<text x="991.3" y="573.47" font-size="18" text-anchor="end" dy="0.35em" letter-spacing="0.6" transform="rotate(87.29 991.3 573.47)">B.cereus.FDAARGOS.781</text>
<text x="1037.49" y="573.84" font-size="18" text-anchor="start" dy="0.35em" letter-spacing="0.6" transform="rotate(273.65 1037.49 573.84)">B.cereus.J<tspan dx="-4.7">EM-2</tspan></text>
<text x="1083.35" y="579.34" font-size="18" text-anchor="start" dy="0.35em" letter-spacing="0.6" transform="rotate(280.02 1083.35 579.34)">B.cereus.ISSFR-9F</text>
<text x="1128.32" y="589.89" font-size="18" text-anchor="start" dy="0.35em" letter-spacing="0.6" transform="rotate(286.38 1128.32 589.89)">B.cereus.ISSFR-3F</text>
<text x="1171.85" y="605.35" font-size="18" text-anchor="start" dy="0.35em" letter-spacing="0.6" transform="rotate(292.75 1171.85 605.35)">B.cereus.MH19</text>
<text x="1213.39" y="625.55" font-size="18" text-anchor="start" dy="0.35em" letter-spacing="0.6" transform="rotate(299.11 1213.39 625.55)">B.cereus.FDAARGOS.802</text>
<text x="1252.44" y="650.23" font-size="18" text-anchor="start" dy="0.35em" letter-spacing="0.6" transform="rotate(305.48 1252.44 650.23)">B.cereus.FDAARGOS.797</text>
<text x="1288.51" y="679.09" font-size="18" text-anchor="start" dy="0.35em" letter-spacing="0.6" transform="rotate(311.84 1288.51 679.09)">B.cereus.FDAARGOS.918</text>
<text x="1321.16" y="711.76" font-size="18" text-anchor="start" dy="0.35em" letter-spacing="0.6" transform="rotate(318.21 1321.16 711.76)">B.cereus.GW-01</text>
<text x="1349.98" y="747.86" font-size="18" text-anchor="start" dy="0.35em" letter-spacing="0.6" transform="rotate(324.57 1349.98 747.86)">B.cereus.CC-1</text>
<text x="1374.62" y="786.93" font-size="18" text-anchor="start" dy="0.35em" letter-spacing="0.6" transform="rotate(330.94 1374.62 786.93)">B.cereus.M3</text>
<text x="1394.79" y="828.49" font-size="18" text-anchor="start" dy="0.35em" letter-spacing="0.6" transform="rotate(337.3 1394.79 828.49)">B.cereus.AR156</text>
<text x="1410.22" y="872.03" font-size="18" text-anchor="start" dy="0.35em" letter-spacing="0.6" transform="rotate(343.67 1410.22 872.03)">B.cereus.03BB87</text>
<path d="M1554.23 988.46L1572.23 988.44M1563.22 979.45L1563.24 997.45M1578.23 988.43L1596.23 988.41M1587.22 979.42L1587.24 997.42M1666.29 1061.44L1684.18 1063.41M1676.23 1053.48L1674.25 1071.37M1592.73 1119.81L1610.29 1123.76M1603.48 1113.01L1599.53 1130.57M1616.14 1125.08L1633.7 1129.03M1626.9 1118.27L1622.95 1135.83M1559.31 1178.21L1576.33 1184.08M1570.76 1172.64L1564.89 1189.66M1549.6 1244.79L1565.86 1252.51M1561.59 1240.52L1553.87 1256.78M1503.85 1294.21L1519.15 1303.69M1516.24 1291.3L1506.76 1306.6M1479.99 1357.19L1494.15 1368.31M1492.63 1355.67L1481.51 1369.83M1404.03 1472.02L1415.39 1485.99M1416.69 1473.32L1402.73 1484.68M1361.35 1533.28L1371.1 1548.41M1373.79 1535.97L1358.66 1545.72M1254.63 1479.69L1262.63 1495.81M1266.69 1483.75L1250.57 1491.76M1086.85 1580.41L1089.14 1598.26M1096.92 1588.19L1079.07 1590.48M1020.72 1579.57L1021.02 1597.57M1029.87 1588.42L1011.87 1588.72M1021.12 1603.57L1021.41 1621.57M1030.26 1612.42L1012.27 1612.72M756.1 1547.87L763.57 1531.49M751.64 1535.94L768.02 1543.41M658.45 1452.65L669.35 1438.32M656.74 1440.03L671.06 1450.93M456.07 1358.47L471.05 1348.49M458.57 1345.99L468.55 1360.97M418.53 1294.67L434.53 1286.41M422.4 1282.54L430.65 1298.54M442.49 1206.38L459.3 1199.95M447.68 1194.76L454.11 1211.57M479.03 681.9L494.62 690.9M491.32 678.6L482.32 694.19M634.35 441.81L644.55 456.64M646.86 444.12L632.04 454.33M801.51 465.51L808.19 482.22M813.21 470.52L796.5 477.21M792.59 443.23L799.28 459.94M804.29 448.24L787.58 454.93M905.79 330.68L908.63 348.45M916.1 338.15L898.32 340.99M979.42 323.07L980.28 341.05M988.84 331.64L970.86 332.49M1326.59 422.27L1335.35 406.55M1323.1 410.03L1338.83 418.79M1387.48 460.75L1397.92 446.1M1385.37 448.2L1400.03 458.65M1443.72 505.75L1455.73 492.34M1443.02 493.04L1456.43 505.05M1560.96 827.86L1578.23 822.79M1567.07 816.69L1572.13 833.96M1583.99 821.11L1601.27 816.05M1590.1 809.94L1595.16 827.21" stroke="#d82a2a" stroke-width="3.2" fill="none"/>
<text x="1254" y="987.5" font-size="32" text-anchor="middle" dy="0.35em" font-family="'Liberation Serif', 'Times New Roman', serif" fill="#111" stroke="#111" stroke-width="0.45">Cluster I</text>
<text x="1318.5" y="901.5" font-size="32" text-anchor="middle" dy="0.35em" font-family="'Liberation Serif', 'Times New Roman', serif" fill="#111" transform="rotate(-17 1318.5 901.5)" stroke="#111" stroke-width="0.45">Cluster II</text>
<text x="1263" y="884.5" font-size="32" text-anchor="middle" dy="0.35em" font-family="'Liberation Serif', 'Times New Roman', serif" fill="#111" transform="rotate(-20.2 1263 884.5)" stroke="#111" stroke-width="0.45">Cluster III</text>
<text x="1209" y="853.5" font-size="32" text-anchor="middle" dy="0.35em" font-family="'Liberation Serif', 'Times New Roman', serif" fill="#111" transform="rotate(-35.2 1209 853.5)" stroke="#111" stroke-width="0.45">Cluster IV</text>
<text x="1070.5" y="835" font-size="32" text-anchor="middle" dy="0.35em" font-family="'Liberation Serif', 'Times New Roman', serif" fill="#111" transform="rotate(-73 1070.5 835)" stroke="#111" stroke-width="0.45">Cluster V</text>
<text x="845" y="1046" font-size="32" text-anchor="middle" dy="0.35em" font-family="'Liberation Serif', 'Times New Roman', serif" fill="#111" transform="rotate(155.8 845 1046)" stroke="#111" stroke-width="0.45">Cluster VI</text>
</g>
<g>
<path d="M1892.59 2954.09A883 883 0 0 1 1892.69 3052.14L1745.41 3044.1A735.5 735.5 0 0 0 1745.32 2962.43Z" fill="#bcadb3"/>
<path d="M1892.69 3052.14A883 883 0 0 1 1881.91 3149.59L1736.43 3125.27A735.5 735.5 0 0 0 1745.41 3044.1Z" fill="#c46566"/>
<path d="M1881.91 3149.59A883 883 0 0 1 1860.4 3245.25L1718.52 3204.95A735.5 735.5 0 0 0 1736.43 3125.27Z" fill="#b14152"/>
<path d="M1860.4 3245.25A883 883 0 0 1 1786.36 3426.5L1656.84 3355.93A735.5 735.5 0 0 0 1718.52 3204.95Z" fill="#c46566"/>
<path d="M1786.36 3426.5A883 883 0 0 1 1734.74 3509.86L1613.84 3425.36A735.5 735.5 0 0 0 1656.84 3355.93Z" fill="#d8dad4"/>
<path d="M1734.74 3509.86A883 883 0 0 1 1674.19 3586.98L1563.41 3489.6A735.5 735.5 0 0 0 1613.84 3425.36Z" fill="#b14152"/>
<path d="M1674.19 3586.98A883 883 0 0 1 1605.47 3656.91L1506.17 3547.85A735.5 735.5 0 0 0 1563.41 3489.6Z" fill="#d8dad4"/>
<path d="M1605.47 3656.91A883 883 0 0 1 1529.42 3718.79L1442.82 3599.39A735.5 735.5 0 0 0 1506.17 3547.85Z" fill="#ccd8d8"/>
<path d="M1529.42 3718.79A883 883 0 0 1 1359.16 3815.46L1301 3679.91A735.5 735.5 0 0 0 1442.82 3599.39Z" fill="#d8dad4"/>
<path d="M1359.16 3815.46A883 883 0 0 1 1171.78 3872.24L1144.92 3727.2A735.5 735.5 0 0 0 1301 3679.91Z" fill="#ccd8d8"/>
<path d="M1171.78 3872.24A883 883 0 0 1 1074.53 3884.71L1063.92 3737.59A735.5 735.5 0 0 0 1144.92 3727.2Z" fill="#bcadb3"/>
<path d="M1074.53 3884.71A883 883 0 0 1 976.5 3886.33L982.26 3738.94A735.5 735.5 0 0 0 1063.92 3737.59Z" fill="#c46566"/>
<path d="M976.5 3886.33A883 883 0 0 1 878.89 3877.06L900.96 3731.22A735.5 735.5 0 0 0 982.26 3738.94Z" fill="#b14152"/>
<path d="M878.89 3877.06A883 883 0 0 1 782.91 3857.03L821.01 3714.54A735.5 735.5 0 0 0 900.96 3731.22Z" fill="#bcadb3"/>
<path d="M782.91 3857.03A883 883 0 0 1 600.53 3785.8L669.1 3655.2A735.5 735.5 0 0 0 821.01 3714.54Z" fill="#b14152"/>
<path d="M600.53 3785.8A883 883 0 0 1 516.39 3735.47L599.01 3613.28A735.5 735.5 0 0 0 669.1 3655.2Z" fill="#bcadb3"/>
<path d="M516.39 3735.47A883 883 0 0 1 438.34 3676.13L534 3563.85A735.5 735.5 0 0 0 599.01 3613.28Z" fill="#c46566"/>
<path d="M438.34 3676.13A883 883 0 0 1 304.31 3533.41L422.36 3444.97A735.5 735.5 0 0 0 534 3563.85Z" fill="#bcadb3"/>
<path d="M304.31 3533.41A883 883 0 0 1 249.97 3451.8L377.09 3376.99A735.5 735.5 0 0 0 422.36 3444.97Z" fill="#a65858"/>
<path d="M249.97 3451.8A883 883 0 0 1 170 3273.08L310.48 3228.13A735.5 735.5 0 0 0 377.09 3376.99Z" fill="#bcadb3"/>
<path d="M170 3273.08A883 883 0 0 1 128.25 2983.14L275.71 2986.62A735.5 735.5 0 0 0 310.48 3228.13Z" fill="#ccd8d8"/>
<path d="M128.25 2983.14A883 883 0 0 1 330.1 2441.8L443.84 2535.71A735.5 735.5 0 0 0 275.71 2986.62Z" fill="#bcadb3"/>
<path d="M330.1 2441.8A883 883 0 0 1 551.49 2249.98L628.25 2375.94A735.5 735.5 0 0 0 443.84 2535.71Z" fill="#ccd8d8"/>
<path d="M551.49 2249.98A883 883 0 0 1 637.92 2203.69L700.24 2337.37A735.5 735.5 0 0 0 628.25 2375.94Z" fill="#bcadb3"/>
<path d="M637.92 2203.69A883 883 0 0 1 728.95 2167.26L776.06 2307.03A735.5 735.5 0 0 0 700.24 2337.37Z" fill="#a65858"/>
<path d="M728.95 2167.26A883 883 0 0 1 823.46 2141.15L854.78 2285.28A735.5 735.5 0 0 0 776.06 2307.03Z" fill="#ccd8d8"/>
<path d="M823.46 2141.15A883 883 0 0 1 920.27 2125.67L935.43 2272.39A735.5 735.5 0 0 0 854.78 2285.28Z" fill="#c46566"/>
<path d="M920.27 2125.67A883 883 0 0 1 1018.21 2121.03L1017.01 2268.52A735.5 735.5 0 0 0 935.43 2272.39Z" fill="#bcadb3"/>
<path d="M1018.21 2121.03A883 883 0 0 1 1306.68 2171.98L1257.29 2310.96A735.5 735.5 0 0 0 1017.01 2268.52Z" fill="#ccd8d8"/>
<path d="M1306.68 2171.98A883 883 0 0 1 1397.1 2209.89L1332.6 2342.54A735.5 735.5 0 0 0 1257.29 2310.96Z" fill="#c46566"/>
<path d="M1397.1 2209.89A883 883 0 0 1 1482.76 2257.59L1403.96 2382.27A735.5 735.5 0 0 0 1332.6 2342.54Z" fill="#bcadb3"/>
<path d="M1482.76 2257.59A883 883 0 0 1 1562.6 2314.49L1470.46 2429.67A735.5 735.5 0 0 0 1403.96 2382.27Z" fill="#c46566"/>
<path d="M1562.6 2314.49A883 883 0 0 1 1635.65 2379.9L1531.3 2484.15A735.5 735.5 0 0 0 1470.46 2429.67Z" fill="#b14152"/>
<path d="M1635.65 2379.9A883 883 0 0 1 1700.99 2453L1585.73 2545.04A735.5 735.5 0 0 0 1531.3 2484.15Z" fill="#bcadb3"/>
<path d="M1700.99 2453A883 883 0 0 1 1757.82 2532.89L1633.07 2611.59A735.5 735.5 0 0 0 1585.73 2545.04Z" fill="#b14152"/>
<path d="M1757.82 2532.89A883 883 0 0 1 1805.45 2618.59L1672.74 2682.97A735.5 735.5 0 0 0 1633.07 2611.59Z" fill="#c46566"/>
<path d="M1805.45 2618.59A883 883 0 0 1 1843.28 2709.05L1704.25 2758.32A735.5 735.5 0 0 0 1672.74 2682.97Z" fill="#ccd8d8"/>
<path d="M1843.28 2709.05A883 883 0 0 1 1870.85 2803.14L1727.22 2836.69A735.5 735.5 0 0 0 1704.25 2758.32Z" fill="#c46566"/>
<path d="M1743.41 3043.99L1894.68 3052.25M1734.46 3124.94L1883.89 3149.92M1716.59 3204.41L1862.33 3245.8M1655.08 3354.97L1788.11 3427.46M1612.2 3424.21L1736.38 3511.01M1561.91 3488.28L1675.69 3588.3M1504.82 3546.37L1606.82 3658.39M1441.65 3597.77L1530.59 3720.41M1300.21 3678.08L1359.95 3817.3M1144.56 3725.24L1172.14 3874.21M1063.77 3735.6L1074.67 3886.71M982.34 3736.94L976.42 3888.32M901.26 3729.24L878.59 3879.04M821.53 3712.61L782.39 3858.96M670.03 3653.43L599.61 3787.57M600.13 3611.63L515.27 3737.13M535.3 3562.33L437.05 3677.65M423.96 3443.77L302.71 3534.61M378.82 3375.98L248.25 3452.81M312.39 3227.52L168.09 3273.69M277.7 2986.67L126.25 2983.09M445.38 2536.99L328.56 2440.53M629.29 2377.64L550.45 2248.27M701.09 2339.19L637.08 2201.87M776.7 2308.93L728.31 2165.36M855.21 2287.24L823.03 2139.19M935.63 2274.38L920.07 2123.68M1016.99 2270.52L1018.23 2119.03M1256.62 2312.85L1307.35 2170.09M1331.73 2344.34L1397.97 2208.09M1402.89 2383.96L1483.83 2255.9M1469.21 2431.23L1563.85 2312.93M1529.89 2485.56L1637.06 2378.48M1584.17 2546.29L1702.55 2451.75M1631.38 2612.65L1759.52 2531.82M1670.94 2683.85L1807.25 2617.72M1702.37 2758.99L1845.17 2708.38M1743.33 2962.54L1894.59 2953.98M1725.27 2837.15L1872.8 2802.68" stroke="#fff" stroke-width="4.2" fill="none"/>
<text x="1763" y="3003.25" font-size="19.5" text-anchor="start" dy="0.35em" letter-spacing="0.3" transform="rotate(-0.06 1763 3003.25)">Environment</text>
<text x="1758.45" y="3086.62" font-size="19.5" text-anchor="start" dy="0.35em" letter-spacing="0.3" transform="rotate(6.31 1758.45 3086.62)">Food</text>
<text x="1744.68" y="3168.98" font-size="19.5" text-anchor="start" dy="0.35em" letter-spacing="0.3" transform="rotate(12.67 1744.68 3168.98)">Animal</text>
<text x="1707.15" y="3288.39" font-size="19.5" text-anchor="start" dy="0.35em" letter-spacing="0.3" transform="rotate(22.22 1707.15 3288.39)">Food</text>
<text x="1650.33" y="3399.93" font-size="19.5" text-anchor="start" dy="0.35em" letter-spacing="0.3" transform="rotate(31.77 1650.33 3399.93)">Plant</text>
<text x="1602.5" y="3468.37" font-size="19.5" text-anchor="start" dy="0.35em" letter-spacing="0.3" transform="rotate(38.13 1602.5 3468.37)">Animal</text>
<text x="1547.37" y="3531.08" font-size="19.5" text-anchor="start" dy="0.35em" letter-spacing="0.3" transform="rotate(44.5 1547.37 3531.08)">Plant</text>
<text x="1485.62" y="3587.3" font-size="19.5" text-anchor="start" dy="0.35em" letter-spacing="0.3" transform="rotate(50.87 1485.62 3587.3)">Unknown</text>
<text x="1382.3" y="3657.94" font-size="19.5" text-anchor="start" dy="0.35em" letter-spacing="0.3" transform="rotate(60.41 1382.3 3657.94)">Plant</text>
<text x="1229.06" y="3723.69" font-size="19.5" text-anchor="start" dy="0.35em" letter-spacing="0.3" transform="rotate(73.14 1229.06 3723.69)">Unknown</text>
<text x="1106.66" y="3749.89" font-size="19.5" text-anchor="start" dy="0.35em" letter-spacing="0.3" transform="rotate(82.69 1106.66 3749.89)">Environment</text>
<text x="1023.38" y="3755.9" font-size="19.5" text-anchor="start" dy="0.35em" letter-spacing="0.3" transform="rotate(89.06 1023.38 3755.9)">Food</text>
<text x="939.94" y="3752.64" font-size="19.5" text-anchor="end" dy="0.35em" letter-spacing="0.3" transform="rotate(-84.58 939.94 3752.64)">Animal</text>
<text x="857.38" y="3740.14" font-size="19.5" text-anchor="end" dy="0.35em" letter-spacing="0.3" transform="rotate(-78.21 857.38 3740.14)">Environment</text>
<text x="737.4" y="3704.46" font-size="19.5" text-anchor="end" dy="0.35em" letter-spacing="0.3" transform="rotate(-68.66 737.4 3704.46)">Animal</text>
<text x="625" y="3649.38" font-size="19.5" text-anchor="end" dy="0.35em" letter-spacing="0.3" transform="rotate(-59.12 625 3649.38)">Environment</text>
<text x="555.83" y="3602.6" font-size="19.5" text-anchor="end" dy="0.35em" letter-spacing="0.3" transform="rotate(-52.75 555.83 3602.6)">Food</text>
<text x="462.85" y="3518.81" font-size="19.5" text-anchor="end" dy="0.35em" letter-spacing="0.3" transform="rotate(-43.2 462.85 3518.81)">Environment</text>
<text x="385.05" y="3420.76" font-size="19.5" text-anchor="end" dy="0.35em" letter-spacing="0.3" transform="rotate(-33.66 385.05 3420.76)">Human</text>
<text x="324.59" y="3311.15" font-size="19.5" text-anchor="end" dy="0.35em" letter-spacing="0.3" transform="rotate(-24.11 324.59 3311.15)">Environment</text>
<text x="266.68" y="3111.18" font-size="19.5" text-anchor="end" dy="0.35em" letter-spacing="0.3" transform="rotate(-8.19 266.68 3111.18)">Unknown</text>
<text x="306.39" y="2741.26" font-size="19.5" text-anchor="end" dy="0.35em" letter-spacing="0.3" transform="rotate(20.45 306.39 2741.26)">Environment</text>
<text x="518.57" y="2435.65" font-size="19.5" text-anchor="end" dy="0.35em" letter-spacing="0.3" transform="rotate(49.09 518.57 2435.65)">Unknown</text>
<text x="655.92" y="2341.11" font-size="19.5" text-anchor="end" dy="0.35em" letter-spacing="0.3" transform="rotate(61.82 655.92 2341.11)">Environment</text>
<text x="731.6" y="2305.83" font-size="19.5" text-anchor="end" dy="0.35em" letter-spacing="0.3" transform="rotate(68.19 731.6 2305.83)">Human</text>
<text x="810.73" y="2279.16" font-size="19.5" text-anchor="end" dy="0.35em" letter-spacing="0.3" transform="rotate(74.55 810.73 2279.16)">Unknown</text>
<text x="892.32" y="2261.42" font-size="19.5" text-anchor="end" dy="0.35em" letter-spacing="0.3" transform="rotate(80.92 892.32 2261.42)">Food</text>
<text x="975.38" y="2252.84" font-size="19.5" text-anchor="end" dy="0.35em" letter-spacing="0.3" transform="rotate(87.29 975.38 2252.84)">Environment</text>
<text x="1141.79" y="2263.46" font-size="19.5" text-anchor="start" dy="0.35em" letter-spacing="0.3" transform="rotate(280.02 1141.79 2263.46)">Unknown</text>
<text x="1301.76" y="2310.49" font-size="19.5" text-anchor="start" dy="0.35em" letter-spacing="0.3" transform="rotate(292.75 1301.76 2310.49)">Food</text>
<text x="1376.86" y="2347" font-size="19.5" text-anchor="start" dy="0.35em" letter-spacing="0.3" transform="rotate(299.11 1376.86 2347)">Environment</text>
<text x="1447.44" y="2391.61" font-size="19.5" text-anchor="start" dy="0.35em" letter-spacing="0.3" transform="rotate(305.48 1447.44 2391.61)">Food</text>
<text x="1512.65" y="2443.77" font-size="19.5" text-anchor="start" dy="0.35em" letter-spacing="0.3" transform="rotate(311.84 1512.65 2443.77)">Animal</text>
<text x="1571.66" y="2502.84" font-size="19.5" text-anchor="start" dy="0.35em" letter-spacing="0.3" transform="rotate(318.21 1571.66 2502.84)">Environment</text>
<text x="1623.77" y="2568.09" font-size="19.5" text-anchor="start" dy="0.35em" letter-spacing="0.3" transform="rotate(324.57 1623.77 2568.09)">Animal</text>
<text x="1668.32" y="2638.71" font-size="19.5" text-anchor="start" dy="0.35em" letter-spacing="0.3" transform="rotate(330.94 1668.32 2638.71)">Food</text>
<text x="1704.77" y="2713.84" font-size="19.5" text-anchor="start" dy="0.35em" letter-spacing="0.3" transform="rotate(337.3 1704.77 2713.84)">Unknown</text>
<text x="1732.66" y="2792.55" font-size="19.5" text-anchor="start" dy="0.35em" letter-spacing="0.3" transform="rotate(343.67 1732.66 2792.55)">Food</text>
<path d="M1917.38 2955.09A907.7 907.7 0 0 1 1917.48 3051.09M1917.22 3055.88A907.7 907.7 0 0 1 1906.67 3151.3M1905.88 3156.03A907.7 907.7 0 0 1 1884.82 3249.69M1883.5 3254.31A907.7 907.7 0 0 1 1852.19 3345.05M1850.38 3349.5A907.7 907.7 0 0 1 1809.19 3436.21M1806.9 3440.43A907.7 907.7 0 0 1 1756.35 3522.04M1753.6 3525.97A907.7 907.7 0 0 1 1694.33 3601.48M1691.16 3605.09A907.7 907.7 0 0 1 1623.87 3673.56M1620.32 3676.79A907.7 907.7 0 0 1 1545.86 3737.38M1541.98 3740.2A907.7 907.7 0 0 1 1461.26 3792.15M1457.08 3794.52A907.7 907.7 0 0 1 1371.1 3837.21M1366.69 3839.11A907.7 907.7 0 0 1 1276.51 3872M1271.91 3873.39A907.7 907.7 0 0 1 1178.64 3896.09M1173.92 3896.96A907.7 907.7 0 0 1 1078.7 3909.17M1073.91 3909.52A907.7 907.7 0 0 1 977.93 3911.1M973.13 3910.91A907.7 907.7 0 0 1 877.57 3901.84M872.82 3901.12A907.7 907.7 0 0 1 778.85 3881.51M774.21 3880.27A907.7 907.7 0 0 1 682.99 3850.36M678.52 3848.62A907.7 907.7 0 0 1 591.18 3808.78M586.93 3806.55A907.7 907.7 0 0 1 504.54 3757.27M500.57 3754.59A907.7 907.7 0 0 1 424.15 3696.48M420.5 3693.37A907.7 907.7 0 0 1 351 3627.15M347.71 3623.65A907.7 907.7 0 0 1 285.98 3550.14M283.1 3546.29A907.7 907.7 0 0 1 229.9 3466.39M227.47 3462.25A907.7 907.7 0 0 1 183.45 3376.94M181.49 3372.56A907.7 907.7 0 0 1 147.21 3282.89M145.74 3278.32A907.7 907.7 0 0 1 121.61 3185.41M120.67 3180.7A907.7 907.7 0 0 1 106.98 3085.68M106.56 3080.9A907.7 907.7 0 0 1 103.5 2984.96M103.61 2980.16A907.7 907.7 0 0 1 111.21 2884.46M111.85 2879.7A907.7 907.7 0 0 1 130.01 2785.44M131.17 2780.78A907.7 907.7 0 0 1 159.67 2689.11M161.34 2684.62A907.7 907.7 0 0 1 199.83 2596.67M201.99 2592.39A907.7 907.7 0 0 1 249.99 2509.25M252.61 2505.23A907.7 907.7 0 0 1 309.53 2427.93M312.59 2424.23A907.7 907.7 0 0 1 377.72 2353.71M381.17 2350.37A907.7 907.7 0 0 1 453.72 2287.51M457.52 2284.57A907.7 907.7 0 0 1 536.59 2230.14M540.69 2227.64A907.7 907.7 0 0 1 625.31 2182.32M629.66 2180.29A907.7 907.7 0 0 1 718.79 2144.62M723.34 2143.09A907.7 907.7 0 0 1 815.87 2117.52M820.56 2116.5A907.7 907.7 0 0 1 915.35 2101.35M920.12 2100.86A907.7 907.7 0 0 1 1016.01 2096.31M1020.81 2096.35A907.7 907.7 0 0 1 1116.61 2102.47M1121.38 2103.04A907.7 907.7 0 0 1 1215.91 2119.73M1220.59 2120.83A907.7 907.7 0 0 1 1312.69 2147.9M1317.21 2149.51A907.7 907.7 0 0 1 1405.74 2186.63M1410.06 2188.73A907.7 907.7 0 0 1 1493.93 2235.43M1497.98 2237.99A907.7 907.7 0 0 1 1576.16 2293.71M1579.91 2296.71A907.7 907.7 0 0 1 1651.42 2360.74M1654.81 2364.14A907.7 907.7 0 0 1 1718.79 2435.71M1721.79 2439.46A907.7 907.7 0 0 1 1777.43 2517.68M1779.99 2521.74A907.7 907.7 0 0 1 1826.62 2605.65M1828.72 2609.97A907.7 907.7 0 0 1 1865.76 2698.54M1867.36 2703.06A907.7 907.7 0 0 1 1894.35 2795.18" stroke="#f1afbf" stroke-width="2.2" fill="none"/>
<path d="M1975.59 2951.8A966 966 0 0 1 1975.69 3054.27M1975.43 3059.06A966 966 0 0 1 1964.17 3160.91M1963.38 3165.65A966 966 0 0 1 1940.9 3265.62M1939.59 3270.24A966 966 0 0 1 1906.16 3367.1M1904.35 3371.55A966 966 0 0 1 1860.39 3464.11M1858.09 3468.32A966 966 0 0 1 1804.14 3555.44M1801.39 3559.37A966 966 0 0 1 1738.11 3639.97M1734.94 3643.58A966 966 0 0 1 1663.12 3716.67M1659.57 3719.9A966 966 0 0 1 1580.09 3784.57M1576.21 3787.39A966 966 0 0 1 1490.04 3842.85M1485.87 3845.22A966 966 0 0 1 1394.09 3890.79M1389.68 3892.68A966 966 0 0 1 1293.41 3927.8M1288.82 3929.19A966 966 0 0 1 1189.25 3953.41M1184.53 3954.29A966 966 0 0 1 1082.89 3967.32M1078.11 3967.67A966 966 0 0 1 975.65 3969.35M970.85 3969.17A966 966 0 0 1 868.84 3959.48M864.1 3958.76A966 966 0 0 1 763.79 3937.83M759.15 3936.59A966 966 0 0 1 661.78 3904.67M657.31 3902.92A966 966 0 0 1 564.08 3860.4M559.83 3858.17A966 966 0 0 1 471.89 3805.57M467.91 3802.88A966 966 0 0 1 386.34 3740.86M382.69 3737.75A966 966 0 0 1 308.5 3667.06M305.21 3663.56A966 966 0 0 1 239.32 3585.09M236.44 3581.25A966 966 0 0 1 179.65 3495.95M177.22 3491.82A966 966 0 0 1 130.24 3400.75M128.28 3396.37A966 966 0 0 1 91.68 3300.66M90.22 3296.09A966 966 0 0 1 64.46 3196.91M63.51 3192.2A966 966 0 0 1 48.91 3090.78M48.49 3086A966 966 0 0 1 45.22 2983.58M45.33 2978.78A966 966 0 0 1 53.43 2876.63M54.08 2871.87A966 966 0 0 1 73.46 2771.25M74.63 2766.6A966 966 0 0 1 105.04 2668.75M106.72 2664.25A966 966 0 0 1 147.8 2570.37M149.96 2566.09A966 966 0 0 1 201.19 2477.34M203.82 2473.33A966 966 0 0 1 264.57 2390.81M267.63 2387.11A966 966 0 0 1 337.16 2311.84M340.6 2308.5A966 966 0 0 1 418.05 2241.4M421.85 2238.46A966 966 0 0 1 506.25 2180.36M510.35 2177.86A966 966 0 0 1 600.68 2129.48M605.03 2127.45A966 966 0 0 1 700.16 2089.38M704.71 2087.84A966 966 0 0 1 803.48 2060.55M808.17 2059.53A966 966 0 0 1 909.36 2043.36M914.13 2042.87A966 966 0 0 1 1016.49 2038.02M1021.29 2038.05A966 966 0 0 1 1123.55 2044.58M1128.32 2045.15A966 966 0 0 1 1229.23 2062.97M1233.9 2064.07A966 966 0 0 1 1332.21 2092.97M1336.73 2094.57A966 966 0 0 1 1431.23 2134.19M1435.55 2136.29A966 966 0 0 1 1525.07 2186.15M1529.13 2188.71A966 966 0 0 1 1612.58 2248.18M1616.33 2251.18A966 966 0 0 1 1692.66 2319.54M1696.06 2322.93A966 966 0 0 1 1764.35 2399.33M1767.34 2403.08A966 966 0 0 1 1826.74 2486.58M1829.3 2490.64A966 966 0 0 1 1879.08 2580.21M1881.17 2584.53A966 966 0 0 1 1920.71 2679.06M1922.31 2683.59A966 966 0 0 1 1951.13 2781.92" stroke="#f1afbf" stroke-width="2.2" fill="none"/>
<text x="1934" y="3003.08" font-size="19.5" text-anchor="middle" dy="0.35em" letter-spacing="0.5" transform="rotate(-90.06 1934 3003.08)">35.01</text>
<text x="1992" y="3003.02" font-size="19.5" text-anchor="middle" dy="0.35em" letter-spacing="0.5" transform="rotate(-90.06 1992 3003.02)">1436</text>
<text x="1928.41" y="3105.41" font-size="19.5" text-anchor="middle" dy="0.35em" letter-spacing="0.5" transform="rotate(-83.69 1928.41 3105.41)">34.92</text>
<text x="1986.06" y="3111.78" font-size="19.5" text-anchor="middle" dy="0.35em" letter-spacing="0.5" transform="rotate(-83.69 1986.06 3111.78)">1688</text>
<text x="1911.51" y="3206.5" font-size="19.5" text-anchor="middle" dy="0.35em" letter-spacing="0.5" transform="rotate(-77.33 1911.51 3206.5)">35.16</text>
<text x="1968.1" y="3219.22" font-size="19.5" text-anchor="middle" dy="0.35em" letter-spacing="0.5" transform="rotate(-77.33 1968.1 3219.22)">Unknown</text>
<text x="1883.51" y="3305.09" font-size="19.5" text-anchor="middle" dy="0.35em" letter-spacing="0.5" transform="rotate(-70.96 1883.51 3305.09)">35.3</text>
<text x="1938.34" y="3324.01" font-size="19.5" text-anchor="middle" dy="0.35em" letter-spacing="0.5" transform="rotate(-70.96 1938.34 3324.01)">1977</text>
<text x="1844.75" y="3399.96" font-size="19.5" text-anchor="middle" dy="0.35em" letter-spacing="0.5" transform="rotate(-64.6 1844.75 3399.96)">35.3</text>
<text x="1897.14" y="3424.84" font-size="19.5" text-anchor="middle" dy="0.35em" letter-spacing="0.5" transform="rotate(-64.6 1897.14 3424.84)">Unknown</text>
<text x="1795.71" y="3489.96" font-size="19.5" text-anchor="middle" dy="0.35em" letter-spacing="0.5" transform="rotate(-58.23 1795.71 3489.96)">35.3</text>
<text x="1845.02" y="3520.49" font-size="19.5" text-anchor="middle" dy="0.35em" letter-spacing="0.5" transform="rotate(-58.23 1845.02 3520.49)">1241</text>
<text x="1737" y="3573.96" font-size="19.5" text-anchor="middle" dy="0.35em" letter-spacing="0.5" transform="rotate(-51.87 1737 3573.96)">35.3</text>
<text x="1782.62" y="3609.78" font-size="19.5" text-anchor="middle" dy="0.35em" letter-spacing="0.5" transform="rotate(-51.87 1782.62 3609.78)">998</text>
<text x="1669.33" y="3650.94" font-size="19.5" text-anchor="middle" dy="0.35em" letter-spacing="0.5" transform="rotate(-45.5 1669.33 3650.94)">35.3</text>
<text x="1710.7" y="3691.59" font-size="19.5" text-anchor="middle" dy="0.35em" letter-spacing="0.5" transform="rotate(-45.5 1710.7 3691.59)">1246</text>
<text x="1593.55" y="3719.94" font-size="19.5" text-anchor="middle" dy="0.35em" letter-spacing="0.5" transform="rotate(-39.13 1593.55 3719.94)">35.3</text>
<text x="1630.16" y="3764.92" font-size="19.5" text-anchor="middle" dy="0.35em" letter-spacing="0.5" transform="rotate(-39.13 1630.16 3764.92)">1949</text>
<text x="1510.59" y="3780.11" font-size="19.5" text-anchor="middle" dy="0.35em" letter-spacing="0.5" transform="rotate(-32.77 1510.59 3780.11)">35.3</text>
<text x="1541.98" y="3828.88" font-size="19.5" text-anchor="middle" dy="0.35em" letter-spacing="0.5" transform="rotate(-32.77 1541.98 3828.88)">1207</text>
<text x="1421.46" y="3830.71" font-size="19.5" text-anchor="middle" dy="0.35em" letter-spacing="0.5" transform="rotate(-26.4 1421.46 3830.71)">35.04</text>
<text x="1447.25" y="3882.66" font-size="19.5" text-anchor="middle" dy="0.35em" letter-spacing="0.5" transform="rotate(-26.4 1447.25 3882.66)">466</text>
<text x="1327.28" y="3871.12" font-size="19.5" text-anchor="middle" dy="0.35em" letter-spacing="0.5" transform="rotate(-20.04 1327.28 3871.12)">34.95</text>
<text x="1347.15" y="3925.61" font-size="19.5" text-anchor="middle" dy="0.35em" letter-spacing="0.5" transform="rotate(-20.04 1347.15 3925.61)">Unknown</text>
<text x="1229.19" y="3900.84" font-size="19.5" text-anchor="middle" dy="0.35em" letter-spacing="0.5" transform="rotate(-13.67 1229.19 3900.84)">34.95</text>
<text x="1242.9" y="3957.2" font-size="19.5" text-anchor="middle" dy="0.35em" letter-spacing="0.5" transform="rotate(-13.67 1242.9 3957.2)">Unknown</text>
<text x="1128.42" y="3919.5" font-size="19.5" text-anchor="middle" dy="0.35em" letter-spacing="0.5" transform="rotate(-7.31 1128.42 3919.5)">35.14</text>
<text x="1135.79" y="3977.03" font-size="19.5" text-anchor="middle" dy="0.35em" letter-spacing="0.5" transform="rotate(-7.31 1135.79 3977.03)">1001</text>
<text x="1026.19" y="3926.87" font-size="19.5" text-anchor="middle" dy="0.35em" letter-spacing="0.5" transform="rotate(-0.94 1026.19 3926.87)">35.12</text>
<text x="1027.15" y="3984.87" font-size="19.5" text-anchor="middle" dy="0.35em" letter-spacing="0.5" transform="rotate(-0.94 1027.15 3984.87)">138</text>
<text x="923.78" y="3922.87" font-size="19.5" text-anchor="middle" dy="0.35em" letter-spacing="0.5" transform="rotate(5.42 923.78 3922.87)">35.12</text>
<text x="918.3" y="3980.61" font-size="19.5" text-anchor="middle" dy="0.35em" letter-spacing="0.5" transform="rotate(5.42 918.3 3980.61)">1265</text>
<text x="822.45" y="3907.54" font-size="19.5" text-anchor="middle" dy="0.35em" letter-spacing="0.5" transform="rotate(11.79 822.45 3907.54)">35.2</text>
<text x="810.6" y="3964.31" font-size="19.5" text-anchor="middle" dy="0.35em" letter-spacing="0.5" transform="rotate(11.79 810.6 3964.31)">12</text>
<text x="723.44" y="3881.06" font-size="19.5" text-anchor="middle" dy="0.35em" letter-spacing="0.5" transform="rotate(18.15 723.44 3881.06)">35.29</text>
<text x="705.37" y="3936.17" font-size="19.5" text-anchor="middle" dy="0.35em" letter-spacing="0.5" transform="rotate(18.15 705.37 3936.17)">Unknown</text>
<text x="627.97" y="3843.77" font-size="19.5" text-anchor="middle" dy="0.35em" letter-spacing="0.5" transform="rotate(24.52 627.97 3843.77)">35.29</text>
<text x="603.9" y="3896.54" font-size="19.5" text-anchor="middle" dy="0.35em" letter-spacing="0.5" transform="rotate(24.52 603.9 3896.54)">Unknown</text>
<text x="537.23" y="3796.13" font-size="19.5" text-anchor="middle" dy="0.35em" letter-spacing="0.5" transform="rotate(30.88 537.23 3796.13)">35.36</text>
<text x="507.46" y="3845.91" font-size="19.5" text-anchor="middle" dy="0.35em" letter-spacing="0.5" transform="rotate(30.88 507.46 3845.91)">Unknown</text>
<text x="452.33" y="3738.72" font-size="19.5" text-anchor="middle" dy="0.35em" letter-spacing="0.5" transform="rotate(37.25 452.33 3738.72)">35.06</text>
<text x="417.22" y="3784.89" font-size="19.5" text-anchor="middle" dy="0.35em" letter-spacing="0.5" transform="rotate(37.25 417.22 3784.89)">1981</text>
<text x="374.32" y="3672.26" font-size="19.5" text-anchor="middle" dy="0.35em" letter-spacing="0.5" transform="rotate(43.61 374.32 3672.26)">35.18</text>
<text x="334.31" y="3714.25" font-size="19.5" text-anchor="middle" dy="0.35em" letter-spacing="0.5" transform="rotate(43.61 334.31 3714.25)">1592</text>
<text x="304.16" y="3597.55" font-size="19.5" text-anchor="middle" dy="0.35em" letter-spacing="0.5" transform="rotate(49.98 304.16 3597.55)">35.89</text>
<text x="259.74" y="3634.85" font-size="19.5" text-anchor="middle" dy="0.35em" letter-spacing="0.5" transform="rotate(49.98 259.74 3634.85)">1477</text>
<text x="242.71" y="3515.52" font-size="19.5" text-anchor="middle" dy="0.35em" letter-spacing="0.5" transform="rotate(56.34 242.71 3515.52)">34.91</text>
<text x="194.43" y="3547.67" font-size="19.5" text-anchor="middle" dy="0.35em" letter-spacing="0.5" transform="rotate(56.34 194.43 3547.67)">752</text>
<text x="190.73" y="3427.19" font-size="19.5" text-anchor="middle" dy="0.35em" letter-spacing="0.5" transform="rotate(62.71 190.73 3427.19)">34.91</text>
<text x="139.19" y="3453.79" font-size="19.5" text-anchor="middle" dy="0.35em" letter-spacing="0.5" transform="rotate(62.71 139.19 3453.79)">752</text>
<text x="148.87" y="3333.64" font-size="19.5" text-anchor="middle" dy="0.35em" letter-spacing="0.5" transform="rotate(69.08 148.87 3333.64)">34.91</text>
<text x="94.7" y="3354.36" font-size="19.5" text-anchor="middle" dy="0.35em" letter-spacing="0.5" transform="rotate(69.08 94.7 3354.36)">752</text>
<text x="117.64" y="3236.03" font-size="19.5" text-anchor="middle" dy="0.35em" letter-spacing="0.5" transform="rotate(75.44 117.64 3236.03)">34.92</text>
<text x="61.5" y="3250.61" font-size="19.5" text-anchor="middle" dy="0.35em" letter-spacing="0.5" transform="rotate(75.44 61.5 3250.61)">62</text>
<text x="97.42" y="3135.55" font-size="19.5" text-anchor="middle" dy="0.35em" letter-spacing="0.5" transform="rotate(81.81 97.42 3135.55)">35.32</text>
<text x="40.02" y="3143.82" font-size="19.5" text-anchor="middle" dy="0.35em" letter-spacing="0.5" transform="rotate(81.81 40.02 3143.82)">1263</text>
<text x="88.47" y="3033.46" font-size="19.5" text-anchor="middle" dy="0.35em" letter-spacing="0.5" transform="rotate(88.17 88.47 3033.46)">35.29</text>
<text x="30.5" y="3035.31" font-size="19.5" text-anchor="middle" dy="0.35em" letter-spacing="0.5" transform="rotate(88.17 30.5 3035.31)">11</text>
<text x="90.89" y="2931" font-size="19.5" text-anchor="middle" dy="0.35em" letter-spacing="0.5" transform="rotate(274.54 90.89 2931)">35.4</text>
<text x="33.07" y="2926.41" font-size="19.5" text-anchor="middle" dy="0.35em" letter-spacing="0.5" transform="rotate(274.54 33.07 2926.41)">1437</text>
<text x="104.66" y="2829.44" font-size="19.5" text-anchor="middle" dy="0.35em" letter-spacing="0.5" transform="rotate(280.9 104.66 2829.44)">35.26</text>
<text x="47.7" y="2818.47" font-size="19.5" text-anchor="middle" dy="0.35em" letter-spacing="0.5" transform="rotate(280.9 47.7 2818.47)">Unknown</text>
<text x="129.6" y="2730.03" font-size="19.5" text-anchor="middle" dy="0.35em" letter-spacing="0.5" transform="rotate(287.27 129.6 2730.03)">35.44</text>
<text x="74.21" y="2712.82" font-size="19.5" text-anchor="middle" dy="0.35em" letter-spacing="0.5" transform="rotate(287.27 74.21 2712.82)">2094</text>
<text x="165.41" y="2634" font-size="19.5" text-anchor="middle" dy="0.35em" letter-spacing="0.5" transform="rotate(293.63 165.41 2634)">35.45</text>
<text x="112.27" y="2610.75" font-size="19.5" text-anchor="middle" dy="0.35em" letter-spacing="0.5" transform="rotate(293.63 112.27 2610.75)">2094</text>
<text x="211.64" y="2542.53" font-size="19.5" text-anchor="middle" dy="0.35em" letter-spacing="0.5" transform="rotate(300 211.64 2542.53)">35.35</text>
<text x="161.41" y="2513.54" font-size="19.5" text-anchor="middle" dy="0.35em" letter-spacing="0.5" transform="rotate(300 161.41 2513.54)">2094</text>
<text x="267.73" y="2456.76" font-size="19.5" text-anchor="middle" dy="0.35em" letter-spacing="0.5" transform="rotate(306.36 267.73 2456.76)">35.26</text>
<text x="221.02" y="2422.37" font-size="19.5" text-anchor="middle" dy="0.35em" letter-spacing="0.5" transform="rotate(306.36 221.02 2422.37)">145</text>
<text x="332.98" y="2377.73" font-size="19.5" text-anchor="middle" dy="0.35em" letter-spacing="0.5" transform="rotate(312.73 332.98 2377.73)">35.26</text>
<text x="290.38" y="2338.37" font-size="19.5" text-anchor="middle" dy="0.35em" letter-spacing="0.5" transform="rotate(312.73 290.38 2338.37)">145</text>
<text x="406.59" y="2306.42" font-size="19.5" text-anchor="middle" dy="0.35em" letter-spacing="0.5" transform="rotate(319.09 406.59 2306.42)">35.26</text>
<text x="368.61" y="2262.58" font-size="19.5" text-anchor="middle" dy="0.35em" letter-spacing="0.5" transform="rotate(319.09 368.61 2262.58)">145</text>
<text x="487.66" y="2243.71" font-size="19.5" text-anchor="middle" dy="0.35em" letter-spacing="0.5" transform="rotate(325.46 487.66 2243.71)">35.26</text>
<text x="454.77" y="2195.93" font-size="19.5" text-anchor="middle" dy="0.35em" letter-spacing="0.5" transform="rotate(325.46 454.77 2195.93)">145</text>
<text x="575.18" y="2190.37" font-size="19.5" text-anchor="middle" dy="0.35em" letter-spacing="0.5" transform="rotate(331.82 575.18 2190.37)">35.27</text>
<text x="547.79" y="2139.25" font-size="19.5" text-anchor="middle" dy="0.35em" letter-spacing="0.5" transform="rotate(331.82 547.79 2139.25)">463</text>
<text x="668.07" y="2147.07" font-size="19.5" text-anchor="middle" dy="0.35em" letter-spacing="0.5" transform="rotate(338.19 668.07 2147.07)">35.12</text>
<text x="646.52" y="2093.22" font-size="19.5" text-anchor="middle" dy="0.35em" letter-spacing="0.5" transform="rotate(338.19 646.52 2093.22)">78</text>
<text x="765.19" y="2114.33" font-size="19.5" text-anchor="middle" dy="0.35em" letter-spacing="0.5" transform="rotate(344.55 765.19 2114.33)">35.3</text>
<text x="749.74" y="2058.43" font-size="19.5" text-anchor="middle" dy="0.35em" letter-spacing="0.5" transform="rotate(344.55 749.74 2058.43)">2001</text>
<text x="865.34" y="2092.57" font-size="19.5" text-anchor="middle" dy="0.35em" letter-spacing="0.5" transform="rotate(350.92 865.34 2092.57)">35.52</text>
<text x="856.18" y="2035.29" font-size="19.5" text-anchor="middle" dy="0.35em" letter-spacing="0.5" transform="rotate(350.92 856.18 2035.29)">127</text>
<text x="967.28" y="2082.04" font-size="19.5" text-anchor="middle" dy="0.35em" letter-spacing="0.5" transform="rotate(357.29 967.28 2082.04)">35.49</text>
<text x="964.54" y="2024.1" font-size="19.5" text-anchor="middle" dy="0.35em" letter-spacing="0.5" transform="rotate(357.29 964.54 2024.1)">2057</text>
<text x="1069.77" y="2082.87" font-size="19.5" text-anchor="middle" dy="0.35em" letter-spacing="0.5" transform="rotate(363.65 1069.77 2082.87)">35.55</text>
<text x="1073.46" y="2024.99" font-size="19.5" text-anchor="middle" dy="0.35em" letter-spacing="0.5" transform="rotate(363.65 1073.46 2024.99)">1941</text>
<text x="1171.53" y="2095.07" font-size="19.5" text-anchor="middle" dy="0.35em" letter-spacing="0.5" transform="rotate(370.02 1171.53 2095.07)">35.3</text>
<text x="1181.62" y="2037.95" font-size="19.5" text-anchor="middle" dy="0.35em" letter-spacing="0.5" transform="rotate(370.02 1181.62 2037.95)">1595</text>
<text x="1271.31" y="2118.47" font-size="19.5" text-anchor="middle" dy="0.35em" letter-spacing="0.5" transform="rotate(376.38 1271.31 2118.47)">35.25</text>
<text x="1287.67" y="2062.82" font-size="19.5" text-anchor="middle" dy="0.35em" letter-spacing="0.5" transform="rotate(376.38 1287.67 2062.82)">177</text>
<text x="1367.88" y="2152.79" font-size="19.5" text-anchor="middle" dy="0.35em" letter-spacing="0.5" transform="rotate(382.75 1367.88 2152.79)">35.31</text>
<text x="1390.31" y="2099.3" font-size="19.5" text-anchor="middle" dy="0.35em" letter-spacing="0.5" transform="rotate(382.75 1390.31 2099.3)">177</text>
<text x="1460.05" y="2197.6" font-size="19.5" text-anchor="middle" dy="0.35em" letter-spacing="0.5" transform="rotate(389.11 1460.05 2197.6)">35.26</text>
<text x="1488.27" y="2146.93" font-size="19.5" text-anchor="middle" dy="0.35em" letter-spacing="0.5" transform="rotate(389.11 1488.27 2146.93)">177</text>
<text x="1546.69" y="2252.36" font-size="19.5" text-anchor="middle" dy="0.35em" letter-spacing="0.5" transform="rotate(395.48 1546.69 2252.36)">35.19</text>
<text x="1580.35" y="2205.12" font-size="19.5" text-anchor="middle" dy="0.35em" letter-spacing="0.5" transform="rotate(395.48 1580.35 2205.12)">1946</text>
<text x="1626.72" y="2316.38" font-size="19.5" text-anchor="middle" dy="0.35em" letter-spacing="0.5" transform="rotate(401.84 1626.72 2316.38)">35.28</text>
<text x="1665.41" y="2273.17" font-size="19.5" text-anchor="middle" dy="0.35em" letter-spacing="0.5" transform="rotate(401.84 1665.41 2273.17)">73</text>
<text x="1699.16" y="2388.88" font-size="19.5" text-anchor="middle" dy="0.35em" letter-spacing="0.5" transform="rotate(408.21 1699.16 2388.88)">35.19</text>
<text x="1742.4" y="2350.23" font-size="19.5" text-anchor="middle" dy="0.35em" letter-spacing="0.5" transform="rotate(408.21 1742.4 2350.23)">752</text>
<text x="1763.11" y="2468.97" font-size="19.5" text-anchor="middle" dy="0.35em" letter-spacing="0.5" transform="rotate(414.57 1763.11 2468.97)">35.28</text>
<text x="1810.37" y="2435.35" font-size="19.5" text-anchor="middle" dy="0.35em" letter-spacing="0.5" transform="rotate(414.57 1810.37 2435.35)">24</text>
<text x="1817.79" y="2555.65" font-size="19.5" text-anchor="middle" dy="0.35em" letter-spacing="0.5" transform="rotate(420.94 1817.79 2555.65)">35.28</text>
<text x="1868.49" y="2527.48" font-size="19.5" text-anchor="middle" dy="0.35em" letter-spacing="0.5" transform="rotate(420.94 1868.49 2527.48)">24</text>
<text x="1862.52" y="2647.86" font-size="19.5" text-anchor="middle" dy="0.35em" letter-spacing="0.5" transform="rotate(427.3 1862.52 2647.86)">35.3</text>
<text x="1916.03" y="2625.48" font-size="19.5" text-anchor="middle" dy="0.35em" letter-spacing="0.5" transform="rotate(427.3 1916.03 2625.48)">921</text>
<text x="1896.76" y="2744.46" font-size="19.5" text-anchor="middle" dy="0.35em" letter-spacing="0.5" transform="rotate(433.67 1896.76 2744.46)">35.3</text>
<text x="1952.42" y="2728.15" font-size="19.5" text-anchor="middle" dy="0.35em" letter-spacing="0.5" transform="rotate(433.67 1952.42 2728.15)">142</text>
<path d="M1697.5 2966.84A687.5 687.5 0 0 1 1672.8 3190.2" stroke="#a8939d" stroke-width="2.6" fill="none"/>
<text x="1708.75" y="3081.13" font-size="17.8" text-anchor="middle" dy="0.35em" letter-spacing="1" transform="rotate(-83.69 1708.75 3081.13)">China</text>
<path d="M1671.88 3193.47A687.5 687.5 0 0 1 1475.11 3511.21" stroke="#c0434a" stroke-width="2.6" fill="none"/>
<text x="1607.82" y="3373.6" font-size="17.8" text-anchor="middle" dy="0.35em" letter-spacing="1" transform="rotate(-58.23 1607.82 3373.6)">South Korea</text>
<path d="M1472.59 3513.5A687.5 687.5 0 0 1 1416.01 3559.54" stroke="#1f7d3a" stroke-width="2.6" fill="none"/>
<text x="1454.07" y="3548.51" font-size="17.8" text-anchor="middle" dy="0.35em" letter-spacing="1" transform="rotate(-39.13 1454.07 3548.51)">Germany</text>
<path d="M1413.26 3561.53A687.5 687.5 0 0 1 1283.64 3635.13" stroke="#c0434a" stroke-width="2.6" fill="none"/>
<text x="1357.61" y="3614.46" font-size="17.8" text-anchor="middle" dy="0.35em" letter-spacing="1" transform="rotate(-29.59 1357.61 3614.46)">South Korea</text>
<path d="M1280.51 3636.47A687.5 687.5 0 0 1 1137.85 3679.7" stroke="#3a4aa8" stroke-width="2.6" fill="none"/>
<text x="1214.56" y="3675.84" font-size="17.8" text-anchor="middle" dy="0.35em" letter-spacing="1" transform="rotate(-16.86 1214.56 3675.84)">USA</text>
<path d="M1134.51 3680.31A687.5 687.5 0 0 1 1062.16 3689.59" stroke="#a8939d" stroke-width="2.6" fill="none"/>
<text x="1100.3" y="3700.3" font-size="17.8" text-anchor="middle" dy="0.35em" letter-spacing="1" transform="rotate(-7.31 1100.3 3700.3)">China</text>
<path d="M1058.77 3689.84A687.5 687.5 0 0 1 985.83 3691.04" stroke="#c0434a" stroke-width="2.6" fill="none"/>
<text x="1022.08" y="3676.91" font-size="17" text-anchor="middle" dy="0.35em" font-family="'Liberation Serif', 'Times New Roman', serif" transform="rotate(-0.94 1022.08 3676.91)">South Korea</text>
<path d="M982.44 3690.91A687.5 687.5 0 0 1 909.82 3684.01" stroke="#86695c" stroke-width="2.6" fill="none"/>
<text x="944.67" y="3702.86" font-size="17.8" text-anchor="middle" dy="0.35em" letter-spacing="1" transform="rotate(5.42 944.67 3702.86)">Armenia</text>
<path d="M906.46 3683.5A687.5 687.5 0 0 1 627.31 3574.47" stroke="#a8939d" stroke-width="2.6" fill="none"/>
<text x="755.59" y="3657.89" font-size="17.8" text-anchor="middle" dy="0.35em" letter-spacing="1" transform="rotate(21.34 755.59 3657.89)">China</text>
<path d="M624.49 3572.57A687.5 687.5 0 0 1 566.43 3528.42" stroke="#c0434a" stroke-width="2.6" fill="none"/>
<text x="603.65" y="3539.72" font-size="17" text-anchor="middle" dy="0.35em" font-family="'Liberation Serif', 'Times New Roman', serif" transform="rotate(37.25 603.65 3539.72)">South Korea</text>
<path d="M563.84 3526.21A687.5 687.5 0 0 1 511.03 3475.89" stroke="#a8939d" stroke-width="2.6" fill="none"/>
<text x="526.76" y="3512.25" font-size="17.8" text-anchor="middle" dy="0.35em" letter-spacing="1" transform="rotate(43.61 526.76 3512.25)">China</text>
<path d="M508.7 3473.42A687.5 687.5 0 0 1 461.79 3417.55" stroke="#cfd4ca" stroke-width="2.6" fill="none"/>
<text x="473.4" y="3455.43" font-size="17.8" text-anchor="middle" dy="0.35em" letter-spacing="1" transform="rotate(49.98 473.4 3455.43)">Australia</text>
<path d="M459.75 3414.83A687.5 687.5 0 0 1 356.72 3215.12" stroke="#a8939d" stroke-width="2.6" fill="none"/>
<text x="387.14" y="3325.86" font-size="17.8" text-anchor="middle" dy="0.35em" letter-spacing="1" transform="rotate(62.71 387.14 3325.86)">China</text>
<path d="M355.68 3211.89A687.5 687.5 0 0 1 323.65 2989.46" stroke="#3a4aa8" stroke-width="2.6" fill="none"/>
<text x="316.17" y="3104.06" font-size="17.8" text-anchor="middle" dy="0.35em" letter-spacing="1" transform="rotate(81.81 316.17 3104.06)">USA</text>
<path d="M323.73 2986.06A687.5 687.5 0 0 1 329.5 2913.34" stroke="#a8939d" stroke-width="2.6" fill="none"/>
<text x="311.2" y="2948.48" font-size="17.8" text-anchor="middle" dy="0.35em" letter-spacing="1" transform="rotate(274.54 311.2 2948.48)">China</text>
<path d="M329.96 2909.97A687.5 687.5 0 0 1 343.76 2838.35" stroke="#1d6a38" stroke-width="2.6" fill="none"/>
<text x="321.67" y="2871.24" font-size="17.8" text-anchor="middle" dy="0.35em" letter-spacing="1" transform="rotate(280.9 321.67 2871.24)">Namibia</text>
<path d="M344.58 2835.05A687.5 687.5 0 0 1 434.67 2629.17" stroke="#b9cece" stroke-width="2.6" fill="none"/>
<text x="367.87" y="2722.59" font-size="17.8" text-anchor="middle" dy="0.35em" letter-spacing="1" transform="rotate(293.63 367.87 2722.59)">Unknown</text>
<path d="M436.53 2626.33A687.5 687.5 0 0 1 651.78 2417.81" stroke="#3a4aa8" stroke-width="2.6" fill="none"/>
<text x="522.56" y="2499.78" font-size="17.8" text-anchor="middle" dy="0.35em" letter-spacing="1" transform="rotate(315.91 522.56 2499.78)">USA</text>
<path d="M654.68 2416.04A687.5 687.5 0 0 1 718.98 2381.6" stroke="#a8939d" stroke-width="2.6" fill="none"/>
<text x="679.53" y="2385.19" font-size="17.8" text-anchor="middle" dy="0.35em" letter-spacing="1" transform="rotate(331.82 679.53 2385.19)">China</text>
<path d="M722.06 2380.16A687.5 687.5 0 0 1 789.79 2353.06" stroke="#3a4aa8" stroke-width="2.6" fill="none"/>
<text x="750.18" y="2352.25" font-size="17.8" text-anchor="middle" dy="0.35em" letter-spacing="1" transform="rotate(338.19 750.18 2352.25)">USA</text>
<path d="M793.01 2351.98A687.5 687.5 0 0 1 863.32 2332.55" stroke="#b9cece" stroke-width="2.6" fill="none"/>
<text x="824.04" y="2327.35" font-size="17.8" text-anchor="middle" dy="0.35em" letter-spacing="1" transform="rotate(344.55 824.04 2327.35)">Unknow</text>
<path d="M866.64 2331.83A687.5 687.5 0 0 1 938.67 2320.32" stroke="#c0434a" stroke-width="2.6" fill="none"/>
<text x="904.79" y="2339.43" font-size="17" text-anchor="middle" dy="0.35em" font-family="'Liberation Serif', 'Times New Roman', serif" transform="rotate(350.92 904.79 2339.43)">South Korea</text>
<path d="M942.05 2319.97A687.5 687.5 0 0 1 1091.11 2321.18" stroke="#a8939d" stroke-width="2.6" fill="none"/>
<text x="1016.73" y="2302.02" font-size="17.8" text-anchor="middle" dy="0.35em" letter-spacing="1" transform="rotate(360.47 1016.73 2302.02)">China</text>
<path d="M1094.49 2321.59A687.5 687.5 0 0 1 1166.32 2334.27" stroke="#b9cece" stroke-width="2.6" fill="none"/>
<text x="1133.09" y="2312.7" font-size="17.8" text-anchor="middle" dy="0.35em" letter-spacing="1" transform="rotate(370.02 1133.09 2312.7)">Unknow</text>
<path d="M1169.63 2335.05A687.5 687.5 0 0 1 1239.61 2355.62" stroke="#a8939d" stroke-width="2.6" fill="none"/>
<text x="1208.98" y="2330.5" font-size="17.8" text-anchor="middle" dy="0.35em" letter-spacing="1" transform="rotate(376.38 1208.98 2330.5)">China</text>
<path d="M1242.81 2356.76A687.5 687.5 0 0 1 1310.09 2384.97" stroke="#c0434a" stroke-width="2.6" fill="none"/>
<text x="1271.22" y="2383.34" font-size="17" text-anchor="middle" dy="0.35em" font-family="'Liberation Serif', 'Times New Roman', serif" transform="rotate(382.75 1271.22 2383.34)">South Korea</text>
<path d="M1313.14 2386.45A687.5 687.5 0 0 1 1376.87 2421.94" stroke="#a8939d" stroke-width="2.6" fill="none"/>
<text x="1352.53" y="2390.68" font-size="17.8" text-anchor="middle" dy="0.35em" letter-spacing="1" transform="rotate(389.11 1352.53 2390.68)">China</text>
<path d="M1379.75 2423.76A687.5 687.5 0 0 1 1439.15 2466.09" stroke="#4c4c72" stroke-width="2.6" fill="none"/>
<text x="1418.42" y="2432.33" font-size="17.8" text-anchor="middle" dy="0.35em" letter-spacing="1" transform="rotate(395.48 1418.42 2432.33)">Korea</text>
<path d="M1441.8 2468.22A687.5 687.5 0 0 1 1496.14 2516.88" stroke="#a8939d" stroke-width="2.6" fill="none"/>
<text x="1479.29" y="2481.02" font-size="17.8" text-anchor="middle" dy="0.35em" letter-spacing="1" transform="rotate(401.84 1479.29 2481.02)">China</text>
<path d="M1498.55 2519.28A687.5 687.5 0 0 1 1547.16 2573.66" stroke="#b9cece" stroke-width="2.6" fill="none"/>
<text x="1534.39" y="2536.16" font-size="17.8" text-anchor="middle" dy="0.35em" letter-spacing="1" transform="rotate(408.21 1534.39 2536.16)">Unknow</text>
<path d="M1549.28 2576.32A687.5 687.5 0 0 1 1591.56 2635.76" stroke="#a8939d" stroke-width="2.6" fill="none"/>
<text x="1583.03" y="2597.07" font-size="17.8" text-anchor="middle" dy="0.35em" letter-spacing="1" transform="rotate(414.57 1583.03 2597.07)">China</text>
<path d="M1593.38 2638.64A687.5 687.5 0 0 1 1628.81 2702.4" stroke="#c0434a" stroke-width="2.6" fill="none"/>
<text x="1599.27" y="2677.09" font-size="17" text-anchor="middle" dy="0.35em" font-family="'Liberation Serif', 'Times New Roman', serif" transform="rotate(420.94 1599.27 2677.09)">South Korea</text>
<path d="M1630.3 2705.45A687.5 687.5 0 0 1 1658.44 2772.75" stroke="#b9cece" stroke-width="2.6" fill="none"/>
<text x="1658.64" y="2733.13" font-size="17.8" text-anchor="middle" dy="0.35em" letter-spacing="1" transform="rotate(427.3 1658.64 2733.13)">Unknow</text>
<path d="M1659.58 2775.95A687.5 687.5 0 0 1 1680.09 2845.96" stroke="#c0434a" stroke-width="2.6" fill="none"/>
<text x="1684.68" y="2806.61" font-size="17" text-anchor="middle" dy="0.35em" font-family="'Liberation Serif', 'Times New Roman', serif" transform="rotate(433.67 1684.68 2806.61)">South Korea</text>
<path d="M1011.5 3002L1035.77 3011.32M1037.5 3001.97A26 26 0 0 1 1030.79 3019.43M1037.5 3001.97L1421.5 3001.59M1030.79 3019.43L1051.57 3038.2M1065.17 3007.93A54 54 0 0 1 1022.84 3054.8M1065.17 3007.93L1419.02 3047.05M1022.84 3054.8L1028.72 3082.17M1085.2 3037.95A82 82 0 0 1 959.07 3065.04M1085.2 3037.95L1277.54 3131.76M1300.29 3066.94A296 296 0 0 1 1240.47 3189.59M1300.29 3066.94L1411.51 3091.95M1240.47 3189.59L1259.03 3204.8M1296.63 3147.25A320 320 0 0 1 1210 3252.99M1296.63 3147.25L1323.37 3160.87M1335.51 3134.36A350 350 0 0 1 1309.06 3186.27M1335.51 3134.36L1363.28 3145.71M1370.71 3125.96A380 380 0 0 1 1354.76 3165.02M1370.71 3125.96L1399.07 3135.74M1354.76 3165.02L1381.86 3177.89M1309.06 3186.27L1360.07 3217.86M1210 3252.99L1219.31 3264.76M1243.83 3243.35A335 335 0 0 1 1192.82 3283.69M1243.83 3243.35L1261.17 3261.36M1281.88 3239.68A360 360 0 0 1 1238.71 3281.24M1281.88 3239.68L1300.66 3256.19M1314.33 3239.74A385 385 0 0 1 1286.1 3271.85M1314.33 3239.74L1333.99 3255.18M1286.1 3271.85L1303.93 3289.37M1238.71 3281.24L1270.27 3320.02M1192.82 3283.69L1233.42 3346.75M959.07 3065.04L941.16 3086.57M1036.02 3109.23A110 110 0 0 1 901.59 2997.43M1036.02 3109.23L1083.49 3316.88M1130.56 3302.25A323 323 0 0 1 1034.74 3324.16M1130.56 3302.25L1140.52 3327.35M1167.15 3315.49A350 350 0 0 1 1112.99 3336.96M1167.15 3315.49L1193.83 3369.23M1112.99 3336.96L1120.82 3362.8M1140.68 3356.18A377 377 0 0 1 1100.62 3368.31M1140.68 3356.18L1151.99 3387.18M1100.62 3368.31L1108.42 3400.38M1034.74 3324.16L1038.55 3377.03M1059.33 3374.95A376 376 0 0 1 1017.69 3377.95M1059.33 3374.95L1063.66 3408.67M1017.69 3377.95L1018.25 3411.94M901.59 2997.43L875.62 2996.35M953.35 3124.94A136 136 0 0 1 963.75 2874.66M953.35 3124.94L896.05 3246.07M971.1 3268.96A270 270 0 0 1 830.76 3202.58M971.1 3268.96L955.09 3374.76M975.88 3377.31A377 377 0 0 1 934.49 3371.05M975.88 3377.31L972.76 3410.17M934.49 3371.05L927.74 3403.35M830.76 3202.58L817.37 3217.44M873.14 3256.87A290 290 0 0 1 772.36 3166.05M873.14 3256.87L861.21 3278.84M896.89 3295.41A315 315 0 0 1 827.88 3257.94M896.89 3295.41L869.97 3364.34M890.31 3371.64A389 389 0 0 1 850.07 3355.92M890.31 3371.64L883.76 3391.59M850.07 3355.92L841.36 3375.03M827.88 3257.94L804.56 3290.44M829.28 3306.67A355 355 0 0 1 781.27 3272.22M829.28 3306.67L801.05 3353.87M781.27 3272.22L765.06 3291.25M781.5 3304.49A380 380 0 0 1 749.38 3277.12M781.5 3304.49L763.34 3328.37M749.38 3277.12L728.68 3298.84M772.36 3166.05L754.22 3178.5M772.57 3202.64A312 312 0 0 1 738.31 3152.7M772.57 3202.64L697.52 3265.66M738.31 3152.7L700.65 3173.46M716 3198.74A355 355 0 0 1 687.46 3147M716 3198.74L670.22 3229.22M687.46 3147L664.64 3157.21M673.8 3176.23A380 380 0 0 1 656.56 3137.71M673.8 3176.23L647.13 3189.98M656.56 3137.71L628.54 3148.43M963.75 2874.66L954.97 2851.25M886.16 2900.95A161 161 0 0 1 1039.5 2843.45M886.16 2900.95L865.14 2884.01M823.57 2996.74A188 188 0 0 1 966.48 2819.47M823.57 2996.74L795.58 2995.96M798.64 3038.71A216 216 0 0 1 801.03 2953.45M798.64 3038.71L665.61 3061.66M671.77 3090.24A351 351 0 0 1 661.84 3032.66M671.77 3090.24L614.67 3105.07M661.84 3032.66L634.95 3035.02M637.36 3055.88A378 378 0 0 1 633.69 3014.06M637.36 3055.88L605.69 3060.44M633.69 3014.06L601.71 3015.09M801.03 2953.45L777.64 2948.05M772.25 2983.02A240 240 0 0 1 788.11 2914.26M772.25 2983.02L602.78 2969.57M788.11 2914.26L764.84 2905.12M751.28 2951.88A265 265 0 0 1 786.73 2861.62M751.28 2951.88L608.9 2924.46M786.73 2861.62L757.05 2843.08M733.43 2889.42A300 300 0 0 1 788.32 2801.52M733.43 2889.42L677.81 2866.9M667.72 2895.14A360 360 0 0 1 690.21 2839.6M667.72 2895.14L619.98 2880.3M690.21 2839.6L671.47 2830.13M662.45 2849.27A381 381 0 0 1 681.54 2811.51M662.45 2849.27L635.88 2837.65M681.54 2811.51L656.42 2797.02M788.32 2801.52L762.28 2778.13M741.73 2803.38A335 335 0 0 1 785.19 2755M741.73 2803.38L681.34 2758.91M785.19 2755L768.3 2736.57M747.05 2757.73A360 360 0 0 1 791.23 2717.25M747.05 2757.73L710.32 2723.81M791.23 2717.25L775.32 2696.69M758.74 2710.27A386 386 0 0 1 792.64 2684.04M758.74 2710.27L743.02 2692.13M792.64 2684.04L779.03 2664.28M966.48 2819.47L934.4 2689.37M883.61 2706.49A322 322 0 0 1 987.32 2680.91M883.61 2706.49L871.69 2678.96M845.29 2691.71A352 352 0 0 1 899.06 2668.44M845.29 2691.71L817.91 2640.58M899.06 2668.44L887.56 2634.33M867.34 2641.77A388 388 0 0 1 908.17 2628.01M867.34 2641.77L859.17 2621.35M908.17 2628.01L902.31 2606.81M987.32 2680.91L984.47 2643.02M954.69 2646.51A360 360 0 0 1 1014.44 2642.01M954.69 2646.51L946.8 2597.14M1014.44 2642.01L1014.67 2614.01M993.12 2614.44A388 388 0 0 1 1036.2 2614.79M993.12 2614.44L992.08 2592.46M1036.2 2614.79L1037.61 2592.83M1039.5 2843.45L1082.81 2598.25M1011.5 3002L1171.78 2748.41M1119.77 2722.22A300 300 0 0 1 1217.75 2784.15M1119.77 2722.22L1138.53 2673.72M1110.77 2664.29A352 352 0 0 1 1165.42 2685.43M1110.77 2664.29L1127.13 2608.64M1165.42 2685.43L1177.66 2660.25M1158.43 2651.55A380 380 0 0 1 1196.38 2670M1158.43 2651.55L1170.03 2623.89M1196.38 2670L1210.97 2643.79M1217.75 2784.15L1238.38 2762.36M1203.02 2733.27A330 330 0 0 1 1269.37 2796.08M1203.02 2733.27L1249.45 2668.12M1269.37 2796.08L1285 2783.6M1259.1 2754.62A350 350 0 0 1 1307.52 2815.26M1259.1 2754.62L1283.85 2729.88M1268.33 2715.18A385 385 0 0 1 1298.54 2745.42M1268.33 2715.18L1285 2696.56M1298.54 2745.42L1317.18 2728.76M1307.52 2815.26L1332.9 2799.26M1321.14 2781.73A380 380 0 0 1 1343.66 2817.41M1321.14 2781.73L1345.59 2764.34M1343.66 2817.41L1369.88 2802.84M1011.5 3002L1368.73 2875.4M1361.15 2855.76A379 379 0 0 1 1375.21 2895.43M1361.15 2855.76L1389.75 2843.8M1375.21 2895.43L1404.96 2886.71" stroke="#222" stroke-width="1.4" fill="none" stroke-linejoin="round"/>
<text x="1427.5" y="3001.58" font-size="19" text-anchor="start" dy="0.35em" letter-spacing="0.8" transform="rotate(-0.06 1427.5 3001.58)">B.cereus.HBL-AI</text>
<text x="1424.98" y="3047.71" font-size="19" text-anchor="start" dy="0.35em" letter-spacing="0.8" transform="rotate(6.31 1424.98 3047.71)">B.cereus.HN001</text>
<text x="1417.37" y="3093.27" font-size="19" text-anchor="start" dy="0.35em" letter-spacing="0.8" transform="rotate(12.67 1417.37 3093.27)">B.cereus.DLOU-Weihai</text>
<text x="1404.74" y="3137.7" font-size="19" text-anchor="start" dy="0.35em" letter-spacing="0.8" transform="rotate(19.04 1404.74 3137.7)">B.cereus.D12 2</text>
<text x="1387.28" y="3180.46" font-size="19" text-anchor="start" dy="0.35em" letter-spacing="0.8" transform="rotate(25.4 1387.28 3180.46)">B.cereus.1000305</text>
<text x="1365.17" y="3221.02" font-size="19" text-anchor="start" dy="0.35em" letter-spacing="0.8" transform="rotate(31.77 1365.17 3221.02)">B.cereus.FORC 086</text>
<text x="1338.71" y="3258.88" font-size="19" text-anchor="start" dy="0.35em" letter-spacing="0.8" transform="rotate(38.13 1338.71 3258.88)">B.cereus.FORC 005</text>
<text x="1308.21" y="3293.58" font-size="19" text-anchor="start" dy="0.35em" letter-spacing="0.8" transform="rotate(44.5 1308.21 3293.58)">B.cereus.FORC 048</text>
<text x="1274.06" y="3324.68" font-size="19" text-anchor="start" dy="0.35em" letter-spacing="0.8" transform="rotate(50.87 1274.06 3324.68)">B.cereus.FDAARGOS 1084</text>
<text x="1236.67" y="3351.8" font-size="19" text-anchor="start" dy="0.35em" letter-spacing="0.8" transform="rotate(57.23 1236.67 3351.8)">B.cereus.FORC60</text>
<text x="1196.5" y="3374.6" font-size="19" text-anchor="start" dy="0.35em" letter-spacing="0.8" transform="rotate(63.6 1196.5 3374.6)">B.cereus.FORC087</text>
<text x="1154.05" y="3392.82" font-size="19" text-anchor="start" dy="0.35em" letter-spacing="0.8" transform="rotate(69.96 1154.05 3392.82)">B.cereus.FDAARGOS 798</text>
<text x="1109.84" y="3406.21" font-size="19" text-anchor="start" dy="0.35em" letter-spacing="0.8" transform="rotate(76.33 1109.84 3406.21)">B.cereus.FDAARGOS 799</text>
<text x="1064.42" y="3414.62" font-size="19" text-anchor="start" dy="0.35em" letter-spacing="0.8" transform="rotate(82.69 1064.42 3414.62)">B.cereus.A1</text>
<text x="1018.35" y="3417.94" font-size="19" text-anchor="start" dy="0.35em" letter-spacing="0.8" transform="rotate(89.06 1018.35 3417.94)">B.cereus.K8</text>
<text x="972.19" y="3416.14" font-size="19" text-anchor="end" dy="0.35em" letter-spacing="0.8" transform="rotate(-84.58 972.19 3416.14)">B.cereus.VKM.B-370</text>
<text x="926.52" y="3409.23" font-size="19" text-anchor="end" dy="0.35em" letter-spacing="0.8" transform="rotate(-78.21 926.52 3409.23)">B.cereus.ZB201708</text>
<text x="881.89" y="3397.3" font-size="19" text-anchor="end" dy="0.35em" letter-spacing="0.8" transform="rotate(-71.85 881.89 3397.3)">B.cereus.DLOU-Changhai</text>
<text x="838.87" y="3380.49" font-size="19" text-anchor="end" dy="0.35em" letter-spacing="0.8" transform="rotate(-65.48 838.87 3380.49)">B.cereus.TG1-6</text>
<text x="797.97" y="3359.02" font-size="19" text-anchor="end" dy="0.35em" letter-spacing="0.8" transform="rotate(-59.12 797.97 3359.02)">B.cereus.MLY1</text>
<text x="759.71" y="3333.14" font-size="19" text-anchor="end" dy="0.35em" letter-spacing="0.8" transform="rotate(-52.75 759.71 3333.14)">B.cereus.FORC 047</text>
<text x="724.54" y="3303.19" font-size="19" text-anchor="end" dy="0.35em" letter-spacing="0.8" transform="rotate(-46.39 724.54 3303.19)">B.cereus.NJW</text>
<text x="692.92" y="3269.52" font-size="19" text-anchor="end" dy="0.35em" letter-spacing="0.8" transform="rotate(-40.02 692.92 3269.52)">B.cereus.SB1</text>
<text x="665.23" y="3232.55" font-size="19" text-anchor="end" dy="0.35em" letter-spacing="0.8" transform="rotate(-33.66 665.23 3232.55)">B.cereus.CH</text>
<text x="641.8" y="3192.73" font-size="19" text-anchor="end" dy="0.35em" letter-spacing="0.8" transform="rotate(-27.29 641.8 3192.73)">B.cereus.CMCC.P0021</text>
<text x="622.94" y="3150.57" font-size="19" text-anchor="end" dy="0.35em" letter-spacing="0.8" transform="rotate(-20.92 622.94 3150.57)">B.cereus.CMCC.P0011</text>
<text x="608.86" y="3106.58" font-size="19" text-anchor="end" dy="0.35em" letter-spacing="0.8" transform="rotate(-14.56 608.86 3106.58)">B.cereus.FDAARGOS 802</text>
<text x="599.75" y="3061.29" font-size="19" text-anchor="end" dy="0.35em" letter-spacing="0.8" transform="rotate(-8.19 599.75 3061.29)">B.cereus.FDAARGOS 797</text>
<text x="595.71" y="3015.28" font-size="19" text-anchor="end" dy="0.35em" letter-spacing="0.8" transform="rotate(-1.83 595.71 3015.28)">B.cereus.FDAARGOS 918</text>
<text x="596.8" y="2969.1" font-size="19" text-anchor="end" dy="0.35em" letter-spacing="0.8" transform="rotate(4.54 596.8 2969.1)">B.cereus.MH19</text>
<text x="603.01" y="2923.32" font-size="19" text-anchor="end" dy="0.35em" letter-spacing="0.8" transform="rotate(10.9 603.01 2923.32)">B.cereus.CTMA 1571</text>
<text x="614.25" y="2878.52" font-size="19" text-anchor="end" dy="0.35em" letter-spacing="0.8" transform="rotate(17.27 614.25 2878.52)">B.cereus.ISSFR-3F</text>
<text x="630.39" y="2835.24" font-size="19" text-anchor="end" dy="0.35em" letter-spacing="0.8" transform="rotate(23.63 630.39 2835.24)">B.cereus.ISSFR-9F</text>
<text x="651.22" y="2794.02" font-size="19" text-anchor="end" dy="0.35em" letter-spacing="0.8" transform="rotate(30 651.22 2794.02)">B.cereus.J<tspan dx="-4.7">EM-2</tspan></text>
<text x="676.5" y="2755.35" font-size="19" text-anchor="end" dy="0.35em" letter-spacing="0.8" transform="rotate(36.36 676.5 2755.35)">B.cereus.S2-8</text>
<text x="705.91" y="2719.74" font-size="19" text-anchor="end" dy="0.35em" letter-spacing="0.8" transform="rotate(42.73 705.91 2719.74)">B.cereus.FDAARGOS 780</text>
<text x="739.09" y="2687.6" font-size="19" text-anchor="end" dy="0.35em" letter-spacing="0.8" transform="rotate(49.09 739.09 2687.6)">B.cereus.3a</text>
<text x="775.63" y="2659.33" font-size="19" text-anchor="end" dy="0.35em" letter-spacing="0.8" transform="rotate(55.46 775.63 2659.33)">B.cereus.FDAARGOS 781</text>
<text x="815.07" y="2635.3" font-size="19" text-anchor="end" dy="0.35em" letter-spacing="0.8" transform="rotate(61.82 815.07 2635.3)">B.cereus.AR156</text>
<text x="856.94" y="2615.78" font-size="19" text-anchor="end" dy="0.35em" letter-spacing="0.8" transform="rotate(68.19 856.94 2615.78)">B.cereus.03BB87</text>
<text x="900.71" y="2601.02" font-size="19" text-anchor="end" dy="0.35em" letter-spacing="0.8" transform="rotate(74.55 900.71 2601.02)">B.cereus.FM1</text>
<text x="945.85" y="2591.21" font-size="19" text-anchor="end" dy="0.35em" letter-spacing="0.8" transform="rotate(80.92 945.85 2591.21)">B.cereus.M3</text>
<text x="991.8" y="2586.47" font-size="19" text-anchor="end" dy="0.35em" letter-spacing="0.8" transform="rotate(87.29 991.8 2586.47)">B.cereus.CC-1</text>
<text x="1037.99" y="2586.84" font-size="19" text-anchor="start" dy="0.35em" letter-spacing="0.8" transform="rotate(273.65 1037.99 2586.84)">B.cereus.GW-01</text>
<text x="1083.85" y="2592.34" font-size="19" text-anchor="start" dy="0.35em" letter-spacing="0.8" transform="rotate(280.02 1083.85 2592.34)">B.cereus.21155</text>
<text x="1128.82" y="2602.89" font-size="19" text-anchor="start" dy="0.35em" letter-spacing="0.8" transform="rotate(286.38 1128.82 2602.89)">B.cereus.AFA01</text>
<text x="1172.35" y="2618.35" font-size="19" text-anchor="start" dy="0.35em" letter-spacing="0.8" transform="rotate(292.75 1172.35 2618.35)">B.cereus.FORC021</text>
<text x="1213.89" y="2638.55" font-size="19" text-anchor="start" dy="0.35em" letter-spacing="0.8" transform="rotate(299.11 1213.89 2638.55)">B.cereus.WPySW2</text>
<text x="1252.94" y="2663.23" font-size="19" text-anchor="start" dy="0.35em" letter-spacing="0.8" transform="rotate(305.48 1252.94 2663.23)">B.cereus.FORC 013</text>
<text x="1289.01" y="2692.09" font-size="19" text-anchor="start" dy="0.35em" letter-spacing="0.8" transform="rotate(311.84 1289.01 2692.09)">B.cereus.DLOU-Tangshan</text>
<text x="1321.66" y="2724.76" font-size="19" text-anchor="start" dy="0.35em" letter-spacing="0.8" transform="rotate(318.21 1321.66 2724.76)">B.cereus.G1-1</text>
<text x="1350.48" y="2760.86" font-size="19" text-anchor="start" dy="0.35em" letter-spacing="0.8" transform="rotate(324.57 1350.48 2760.86)">B.cereus.H2</text>
<text x="1375.12" y="2799.93" font-size="19" text-anchor="start" dy="0.35em" letter-spacing="0.8" transform="rotate(330.94 1375.12 2799.93)">B.cereus.M13</text>
<text x="1395.29" y="2841.49" font-size="19" text-anchor="start" dy="0.35em" letter-spacing="0.8" transform="rotate(337.3 1395.29 2841.49)">B.cereus.ATCC14579</text>
<text x="1410.72" y="2885.03" font-size="19" text-anchor="start" dy="0.35em" letter-spacing="0.8" transform="rotate(343.67 1410.72 2885.03)">B.cereus.FORC 024</text>
<path d="M1579.63 3064.8L1594.54 3066.45M1587.91 3058.17L1586.26 3073.08M1630.15 3141.12L1644.78 3144.41M1639.11 3135.44L1635.82 3150.08M1542.66 3254.26L1556.21 3260.69M1552.65 3250.7L1546.21 3264.25M1526.41 3320.88L1539.17 3328.77M1536.74 3318.45L1528.84 3331.2M1487.89 3376L1499.69 3385.26M1498.42 3374.73L1489.16 3386.53M1503.62 3388.35L1515.42 3397.61M1514.15 3387.08L1504.89 3398.88M1443.49 3426.51L1454.19 3437.02M1454.09 3426.42L1443.58 3437.11M1436.28 3524.04L1445.74 3535.67M1446.83 3525.12L1435.19 3534.59M1329.88 3496.6L1338 3509.21M1340.24 3498.85L1327.63 3506.97M1278.13 3539.03L1284.8 3552.46M1288.19 3542.41L1274.75 3549.08M1238.22 3623.6L1243.36 3637.69M1247.84 3628.07L1233.75 3633.21M1167.91 3644.9L1171.46 3659.48M1176.97 3650.42L1162.4 3653.96M801.42 3642.75L806.09 3628.49M796.63 3633.28L810.88 3637.96M635.83 3496.05L644.91 3484.11M634.4 3485.54L646.34 3494.62M356.57 3172.1L371.09 3168.33M361.95 3162.96L365.72 3177.48M341.75 3098.44L356.6 3096.31M348.11 3089.95L350.25 3104.8M335.19 3023.6L350.18 3023.12M342.45 3015.86L342.92 3030.85M555.08 2665.95L567.16 2674.85M565.57 2664.36L556.67 2676.44M538.97 2654.1L551.05 2662.99M549.46 2652.5L540.57 2664.58M514.44 2542.88L525.46 2553.05M525.04 2542.45L514.86 2553.47M627.84 2444.63L636.34 2456.98M638.27 2446.55L625.91 2455.06M790.11 2448.79L795.69 2462.72M799.86 2452.97L785.94 2458.54M782.68 2430.22L788.25 2444.15M792.43 2434.4L778.5 2439.97M861.34 2458.51L865.33 2472.97M870.56 2463.74L856.1 2467.74M856.01 2439.23L860 2453.69M865.24 2444.47L850.78 2448.46M1243.33 2449.05L1249.13 2435.22M1239.31 2439.24L1253.15 2445.04M1251.06 2430.61L1256.86 2416.78M1247.05 2420.79L1260.88 2426.59M1363.01 2508.78L1371.71 2496.57M1361.25 2498.32L1373.47 2507.03M1452.02 2510.04L1462.02 2498.87M1451.43 2499.45L1462.61 2509.46M1424.46 2632.87L1435.64 2622.87M1425.05 2622.28L1435.05 2633.46M1592.72 2831.7L1607.11 2827.48M1597.81 2822.39L1602.03 2836.78" stroke="#d82a2a" stroke-width="3" fill="none"/>
<text x="1109" y="2847" font-size="32" text-anchor="middle" dy="0.35em" font-family="'Liberation Serif', 'Times New Roman', serif" fill="#111" transform="rotate(-52 1109 2847)" stroke="#111" stroke-width="0.45">Cluster I</text>
<text x="1241.5" y="2919" font-size="32" text-anchor="middle" dy="0.35em" font-family="'Liberation Serif', 'Times New Roman', serif" fill="#111" transform="rotate(-17 1241.5 2919)" stroke="#111" stroke-width="0.45">Cluster II</text>
<text x="1292" y="3001" font-size="32" text-anchor="middle" dy="0.35em" font-family="'Liberation Serif', 'Times New Roman', serif" fill="#111" stroke="#111" stroke-width="0.45">Cluster III</text>
<text x="1343" y="3039" font-size="32" text-anchor="middle" dy="0.35em" font-family="'Liberation Serif', 'Times New Roman', serif" fill="#111" transform="rotate(8.5 1343 3039)" stroke="#111" stroke-width="0.45">Cluster IV</text>
<text x="1199" y="3088" font-size="32" text-anchor="middle" dy="0.35em" font-family="'Liberation Serif', 'Times New Roman', serif" fill="#111" transform="rotate(24 1199 3088)" stroke="#111" stroke-width="0.45">Cluster V</text>
<text x="918" y="3117" font-size="32" text-anchor="middle" dy="0.35em" font-family="'Liberation Serif', 'Times New Roman', serif" fill="#111" transform="rotate(131 918 3117)" stroke="#111" stroke-width="0.45">Cluster VI</text>
</g>
</svg></body></html>
